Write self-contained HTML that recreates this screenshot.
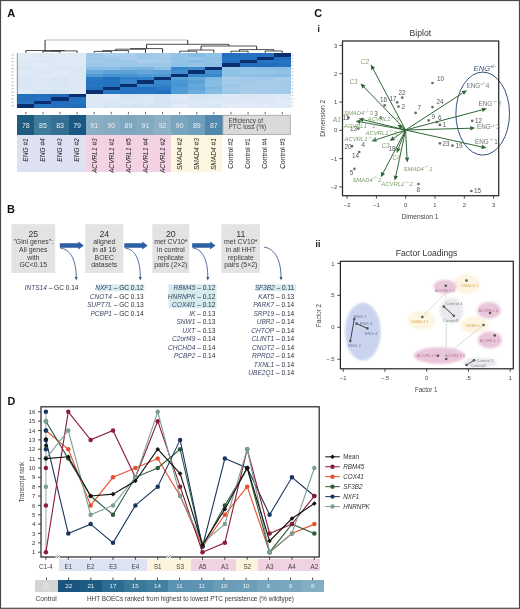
<!DOCTYPE html>
<html><head><meta charset="utf-8"><style>
html,body{margin:0;padding:0;background:#fff;}
svg{display:block;will-change:transform;}
text{font-family:"Liberation Sans",sans-serif;}
</style></head><body>
<svg width="520" height="609" viewBox="0 0 520 609">
<defs><filter id="sb" x="-30%" y="-30%" width="160%" height="160%"><feGaussianBlur stdDeviation="0.9"/></filter></defs>
<rect x="0" y="0" width="520" height="609" fill="#fff"/>
<text x="7.30" y="16.50" font-size="11" fill="#111" text-anchor="start" font-weight="bold" >A</text>
<g shape-rendering="crispEdges"><rect x="17.30" y="53.30" width="17.39" height="3.68" fill="#e1ebf7"/><rect x="34.39" y="53.30" width="17.39" height="3.68" fill="#dee9f6"/><rect x="51.49" y="53.30" width="17.39" height="3.68" fill="#e0eaf6"/><rect x="68.58" y="53.30" width="17.39" height="3.68" fill="#dee9f6"/><rect x="85.67" y="53.30" width="17.39" height="3.68" fill="#a0c9e9"/><rect x="102.77" y="53.30" width="17.39" height="3.68" fill="#a9cdea"/><rect x="119.86" y="53.30" width="17.39" height="3.68" fill="#aaceea"/><rect x="136.96" y="53.30" width="17.39" height="3.68" fill="#9dc8e8"/><rect x="154.05" y="53.30" width="17.39" height="3.68" fill="#a6ccea"/><rect x="171.14" y="53.30" width="17.39" height="3.68" fill="#94c3e7"/><rect x="188.24" y="53.30" width="17.39" height="3.68" fill="#86bce4"/><rect x="205.33" y="53.30" width="17.39" height="3.68" fill="#90c1e6"/><rect x="222.43" y="53.30" width="17.39" height="3.68" fill="#236fbe"/><rect x="239.52" y="53.30" width="17.39" height="3.68" fill="#2573c2"/><rect x="256.61" y="53.30" width="17.39" height="3.68" fill="#2471c0"/><rect x="273.71" y="53.30" width="17.39" height="3.68" fill="#0a2f6f"/><rect x="17.30" y="56.68" width="17.39" height="3.68" fill="#e2ecf7"/><rect x="34.39" y="56.68" width="17.39" height="3.68" fill="#dde9f5"/><rect x="51.49" y="56.68" width="17.39" height="3.68" fill="#dce8f5"/><rect x="68.58" y="56.68" width="17.39" height="3.68" fill="#deeaf6"/><rect x="85.67" y="56.68" width="17.39" height="3.68" fill="#9ec8e9"/><rect x="102.77" y="56.68" width="17.39" height="3.68" fill="#a0c9e9"/><rect x="119.86" y="56.68" width="17.39" height="3.68" fill="#a9cdea"/><rect x="136.96" y="56.68" width="17.39" height="3.68" fill="#9ec8e9"/><rect x="154.05" y="56.68" width="17.39" height="3.68" fill="#a1c9e9"/><rect x="171.14" y="56.68" width="17.39" height="3.68" fill="#93c3e7"/><rect x="188.24" y="56.68" width="17.39" height="3.68" fill="#97c5e8"/><rect x="205.33" y="56.68" width="17.39" height="3.68" fill="#89bee5"/><rect x="222.43" y="56.68" width="17.39" height="3.68" fill="#2573c2"/><rect x="239.52" y="56.68" width="17.39" height="3.68" fill="#2470c0"/><rect x="256.61" y="56.68" width="17.39" height="3.68" fill="#0a2f6f"/><rect x="273.71" y="56.68" width="17.39" height="3.68" fill="#226ebe"/><rect x="17.30" y="60.06" width="17.39" height="3.68" fill="#dde9f5"/><rect x="34.39" y="60.06" width="17.39" height="3.68" fill="#dbe7f5"/><rect x="51.49" y="60.06" width="17.39" height="3.68" fill="#dfeaf6"/><rect x="68.58" y="60.06" width="17.39" height="3.68" fill="#dce8f5"/><rect x="85.67" y="60.06" width="17.39" height="3.68" fill="#a3cbe9"/><rect x="102.77" y="60.06" width="17.39" height="3.68" fill="#9bc7e8"/><rect x="119.86" y="60.06" width="17.39" height="3.68" fill="#9cc7e8"/><rect x="136.96" y="60.06" width="17.39" height="3.68" fill="#a9cdea"/><rect x="154.05" y="60.06" width="17.39" height="3.68" fill="#a8cdea"/><rect x="171.14" y="60.06" width="17.39" height="3.68" fill="#94c3e7"/><rect x="188.24" y="60.06" width="17.39" height="3.68" fill="#87bce4"/><rect x="205.33" y="60.06" width="17.39" height="3.68" fill="#91c2e7"/><rect x="222.43" y="60.06" width="17.39" height="3.68" fill="#2471c1"/><rect x="239.52" y="60.06" width="17.39" height="3.68" fill="#0a2f6f"/><rect x="256.61" y="60.06" width="17.39" height="3.68" fill="#2876c3"/><rect x="273.71" y="60.06" width="17.39" height="3.68" fill="#2573c2"/><rect x="17.30" y="63.44" width="17.39" height="3.68" fill="#e0eaf6"/><rect x="34.39" y="63.44" width="17.39" height="3.68" fill="#e0ebf6"/><rect x="51.49" y="63.44" width="17.39" height="3.68" fill="#dee9f6"/><rect x="68.58" y="63.44" width="17.39" height="3.68" fill="#dee9f6"/><rect x="85.67" y="63.44" width="17.39" height="3.68" fill="#9cc7e8"/><rect x="102.77" y="63.44" width="17.39" height="3.68" fill="#9fc9e9"/><rect x="119.86" y="63.44" width="17.39" height="3.68" fill="#9bc7e8"/><rect x="136.96" y="63.44" width="17.39" height="3.68" fill="#9dc7e8"/><rect x="154.05" y="63.44" width="17.39" height="3.68" fill="#9ac6e8"/><rect x="171.14" y="63.44" width="17.39" height="3.68" fill="#8dc0e6"/><rect x="188.24" y="63.44" width="17.39" height="3.68" fill="#95c4e7"/><rect x="205.33" y="63.44" width="17.39" height="3.68" fill="#89bee5"/><rect x="222.43" y="63.44" width="17.39" height="3.68" fill="#0a2f6f"/><rect x="239.52" y="63.44" width="17.39" height="3.68" fill="#226dbd"/><rect x="256.61" y="63.44" width="17.39" height="3.68" fill="#226ebe"/><rect x="273.71" y="63.44" width="17.39" height="3.68" fill="#2572c1"/><rect x="17.30" y="66.83" width="17.39" height="3.68" fill="#dae7f4"/><rect x="34.39" y="66.83" width="17.39" height="3.68" fill="#dee9f6"/><rect x="51.49" y="66.83" width="17.39" height="3.68" fill="#d9e6f4"/><rect x="68.58" y="66.83" width="17.39" height="3.68" fill="#dbe7f5"/><rect x="85.67" y="66.83" width="17.39" height="3.68" fill="#87bde4"/><rect x="102.77" y="66.83" width="17.39" height="3.68" fill="#8cbfe6"/><rect x="119.86" y="66.83" width="17.39" height="3.68" fill="#7cb6e1"/><rect x="136.96" y="66.83" width="17.39" height="3.68" fill="#79b4e0"/><rect x="154.05" y="66.83" width="17.39" height="3.68" fill="#8bbfe6"/><rect x="171.14" y="66.83" width="17.39" height="3.68" fill="#3686cb"/><rect x="188.24" y="66.83" width="17.39" height="3.68" fill="#3c8bce"/><rect x="205.33" y="66.83" width="17.39" height="3.68" fill="#0a2f6f"/><rect x="222.43" y="66.83" width="17.39" height="3.68" fill="#95c4e7"/><rect x="239.52" y="66.83" width="17.39" height="3.68" fill="#93c3e7"/><rect x="256.61" y="66.83" width="17.39" height="3.68" fill="#8bbfe5"/><rect x="273.71" y="66.83" width="17.39" height="3.68" fill="#89bee5"/><rect x="17.30" y="70.21" width="17.39" height="3.68" fill="#e0eaf6"/><rect x="34.39" y="70.21" width="17.39" height="3.68" fill="#dbe7f5"/><rect x="51.49" y="70.21" width="17.39" height="3.68" fill="#e0eaf6"/><rect x="68.58" y="70.21" width="17.39" height="3.68" fill="#dae7f4"/><rect x="85.67" y="70.21" width="17.39" height="3.68" fill="#68aadc"/><rect x="102.77" y="70.21" width="17.39" height="3.68" fill="#5ca3d9"/><rect x="119.86" y="70.21" width="17.39" height="3.68" fill="#5aa2d8"/><rect x="136.96" y="70.21" width="17.39" height="3.68" fill="#64a8db"/><rect x="154.05" y="70.21" width="17.39" height="3.68" fill="#5aa2d8"/><rect x="171.14" y="70.21" width="17.39" height="3.68" fill="#3e8dce"/><rect x="188.24" y="70.21" width="17.39" height="3.68" fill="#0a2f6f"/><rect x="205.33" y="70.21" width="17.39" height="3.68" fill="#4290d0"/><rect x="222.43" y="70.21" width="17.39" height="3.68" fill="#8ec1e6"/><rect x="239.52" y="70.21" width="17.39" height="3.68" fill="#97c5e8"/><rect x="256.61" y="70.21" width="17.39" height="3.68" fill="#95c4e7"/><rect x="273.71" y="70.21" width="17.39" height="3.68" fill="#91c2e7"/><rect x="17.30" y="73.59" width="17.39" height="3.68" fill="#dbe7f5"/><rect x="34.39" y="73.59" width="17.39" height="3.68" fill="#dfeaf6"/><rect x="51.49" y="73.59" width="17.39" height="3.68" fill="#e0eaf6"/><rect x="68.58" y="73.59" width="17.39" height="3.68" fill="#d9e6f4"/><rect x="85.67" y="73.59" width="17.39" height="3.68" fill="#519bd5"/><rect x="102.77" y="73.59" width="17.39" height="3.68" fill="#4492d1"/><rect x="119.86" y="73.59" width="17.39" height="3.68" fill="#4693d1"/><rect x="136.96" y="73.59" width="17.39" height="3.68" fill="#509ad4"/><rect x="154.05" y="73.59" width="17.39" height="3.68" fill="#4e99d4"/><rect x="171.14" y="73.59" width="17.39" height="3.68" fill="#0a2f6f"/><rect x="188.24" y="73.59" width="17.39" height="3.68" fill="#3a8acd"/><rect x="205.33" y="73.59" width="17.39" height="3.68" fill="#3888cc"/><rect x="222.43" y="73.59" width="17.39" height="3.68" fill="#8ec1e6"/><rect x="239.52" y="73.59" width="17.39" height="3.68" fill="#8fc1e6"/><rect x="256.61" y="73.59" width="17.39" height="3.68" fill="#8ec0e6"/><rect x="273.71" y="73.59" width="17.39" height="3.68" fill="#87bde4"/><rect x="17.30" y="76.97" width="17.39" height="3.68" fill="#dae7f4"/><rect x="34.39" y="76.97" width="17.39" height="3.68" fill="#dbe7f5"/><rect x="51.49" y="76.97" width="17.39" height="3.68" fill="#d8e6f4"/><rect x="68.58" y="76.97" width="17.39" height="3.68" fill="#dde8f5"/><rect x="85.67" y="76.97" width="17.39" height="3.68" fill="#2a78c4"/><rect x="102.77" y="76.97" width="17.39" height="3.68" fill="#236fbf"/><rect x="119.86" y="76.97" width="17.39" height="3.68" fill="#3181c8"/><rect x="136.96" y="76.97" width="17.39" height="3.68" fill="#3180c8"/><rect x="154.05" y="76.97" width="17.39" height="3.68" fill="#0a2f6f"/><rect x="171.14" y="76.97" width="17.39" height="3.68" fill="#579fd7"/><rect x="188.24" y="76.97" width="17.39" height="3.68" fill="#66a9db"/><rect x="205.33" y="76.97" width="17.39" height="3.68" fill="#81b9e3"/><rect x="222.43" y="76.97" width="17.39" height="3.68" fill="#aaceea"/><rect x="239.52" y="76.97" width="17.39" height="3.68" fill="#a0c9e9"/><rect x="256.61" y="76.97" width="17.39" height="3.68" fill="#a0c9e9"/><rect x="273.71" y="76.97" width="17.39" height="3.68" fill="#a9cdea"/><rect x="17.30" y="80.35" width="17.39" height="3.68" fill="#d9e6f4"/><rect x="34.39" y="80.35" width="17.39" height="3.68" fill="#dbe7f5"/><rect x="51.49" y="80.35" width="17.39" height="3.68" fill="#d9e6f4"/><rect x="68.58" y="80.35" width="17.39" height="3.68" fill="#dce8f5"/><rect x="85.67" y="80.35" width="17.39" height="3.68" fill="#2573c2"/><rect x="102.77" y="80.35" width="17.39" height="3.68" fill="#2572c1"/><rect x="119.86" y="80.35" width="17.39" height="3.68" fill="#3887cc"/><rect x="136.96" y="80.35" width="17.39" height="3.68" fill="#0a2f6f"/><rect x="154.05" y="80.35" width="17.39" height="3.68" fill="#3787cc"/><rect x="171.14" y="80.35" width="17.39" height="3.68" fill="#4a96d2"/><rect x="188.24" y="80.35" width="17.39" height="3.68" fill="#5ba2d8"/><rect x="205.33" y="80.35" width="17.39" height="3.68" fill="#88bde5"/><rect x="222.43" y="80.35" width="17.39" height="3.68" fill="#a3cae9"/><rect x="239.52" y="80.35" width="17.39" height="3.68" fill="#a1c9e9"/><rect x="256.61" y="80.35" width="17.39" height="3.68" fill="#a5ccea"/><rect x="273.71" y="80.35" width="17.39" height="3.68" fill="#a5cbea"/><rect x="17.30" y="83.73" width="17.39" height="3.68" fill="#dce8f5"/><rect x="34.39" y="83.73" width="17.39" height="3.68" fill="#dbe8f5"/><rect x="51.49" y="83.73" width="17.39" height="3.68" fill="#dae6f4"/><rect x="68.58" y="83.73" width="17.39" height="3.68" fill="#dce8f5"/><rect x="85.67" y="83.73" width="17.39" height="3.68" fill="#2977c4"/><rect x="102.77" y="83.73" width="17.39" height="3.68" fill="#2472c1"/><rect x="119.86" y="83.73" width="17.39" height="3.68" fill="#0a2f6f"/><rect x="136.96" y="83.73" width="17.39" height="3.68" fill="#3887cc"/><rect x="154.05" y="83.73" width="17.39" height="3.68" fill="#3180c8"/><rect x="171.14" y="83.73" width="17.39" height="3.68" fill="#4995d2"/><rect x="188.24" y="83.73" width="17.39" height="3.68" fill="#68aadc"/><rect x="205.33" y="83.73" width="17.39" height="3.68" fill="#88bde5"/><rect x="222.43" y="83.73" width="17.39" height="3.68" fill="#9dc8e8"/><rect x="239.52" y="83.73" width="17.39" height="3.68" fill="#a7ccea"/><rect x="256.61" y="83.73" width="17.39" height="3.68" fill="#a7cdea"/><rect x="273.71" y="83.73" width="17.39" height="3.68" fill="#a3cbe9"/><rect x="17.30" y="87.11" width="17.39" height="3.68" fill="#d9e6f4"/><rect x="34.39" y="87.11" width="17.39" height="3.68" fill="#dee9f6"/><rect x="51.49" y="87.11" width="17.39" height="3.68" fill="#dce8f5"/><rect x="68.58" y="87.11" width="17.39" height="3.68" fill="#dce8f5"/><rect x="85.67" y="87.11" width="17.39" height="3.68" fill="#2471c0"/><rect x="102.77" y="87.11" width="17.39" height="3.68" fill="#0a2f6f"/><rect x="119.86" y="87.11" width="17.39" height="3.68" fill="#2876c4"/><rect x="136.96" y="87.11" width="17.39" height="3.68" fill="#2471c0"/><rect x="154.05" y="87.11" width="17.39" height="3.68" fill="#2b7ac5"/><rect x="171.14" y="87.11" width="17.39" height="3.68" fill="#509bd5"/><rect x="188.24" y="87.11" width="17.39" height="3.68" fill="#61a6da"/><rect x="205.33" y="87.11" width="17.39" height="3.68" fill="#7bb5e1"/><rect x="222.43" y="87.11" width="17.39" height="3.68" fill="#a3cbe9"/><rect x="239.52" y="87.11" width="17.39" height="3.68" fill="#a7ccea"/><rect x="256.61" y="87.11" width="17.39" height="3.68" fill="#a8cdea"/><rect x="273.71" y="87.11" width="17.39" height="3.68" fill="#a2cae9"/><rect x="17.30" y="90.49" width="17.39" height="3.68" fill="#dde9f5"/><rect x="34.39" y="90.49" width="17.39" height="3.68" fill="#d7e5f4"/><rect x="51.49" y="90.49" width="17.39" height="3.68" fill="#d7e5f3"/><rect x="68.58" y="90.49" width="17.39" height="3.68" fill="#dde9f5"/><rect x="85.67" y="90.49" width="17.39" height="3.68" fill="#0a2f6f"/><rect x="102.77" y="90.49" width="17.39" height="3.68" fill="#2a78c5"/><rect x="119.86" y="90.49" width="17.39" height="3.68" fill="#2471c0"/><rect x="136.96" y="90.49" width="17.39" height="3.68" fill="#2573c2"/><rect x="154.05" y="90.49" width="17.39" height="3.68" fill="#2471c0"/><rect x="171.14" y="90.49" width="17.39" height="3.68" fill="#509bd5"/><rect x="188.24" y="90.49" width="17.39" height="3.68" fill="#6cacdd"/><rect x="205.33" y="90.49" width="17.39" height="3.68" fill="#87bce4"/><rect x="222.43" y="90.49" width="17.39" height="3.68" fill="#9ec8e8"/><rect x="239.52" y="90.49" width="17.39" height="3.68" fill="#a6ccea"/><rect x="256.61" y="90.49" width="17.39" height="3.68" fill="#a5cbea"/><rect x="273.71" y="90.49" width="17.39" height="3.68" fill="#a4cbe9"/><rect x="17.30" y="93.88" width="17.39" height="3.68" fill="#2370bf"/><rect x="34.39" y="93.88" width="17.39" height="3.68" fill="#2370bf"/><rect x="51.49" y="93.88" width="17.39" height="3.68" fill="#206aba"/><rect x="68.58" y="93.88" width="17.39" height="3.68" fill="#0a2f6f"/><rect x="85.67" y="93.88" width="17.39" height="3.68" fill="#dde9f5"/><rect x="102.77" y="93.88" width="17.39" height="3.68" fill="#dfeaf6"/><rect x="119.86" y="93.88" width="17.39" height="3.68" fill="#d5e4f3"/><rect x="136.96" y="93.88" width="17.39" height="3.68" fill="#d6e4f3"/><rect x="154.05" y="93.88" width="17.39" height="3.68" fill="#d4e4f3"/><rect x="171.14" y="93.88" width="17.39" height="3.68" fill="#dce8f5"/><rect x="188.24" y="93.88" width="17.39" height="3.68" fill="#d7e5f4"/><rect x="205.33" y="93.88" width="17.39" height="3.68" fill="#d8e5f4"/><rect x="222.43" y="93.88" width="17.39" height="3.68" fill="#e1ebf7"/><rect x="239.52" y="93.88" width="17.39" height="3.68" fill="#dde8f5"/><rect x="256.61" y="93.88" width="17.39" height="3.68" fill="#dce8f5"/><rect x="273.71" y="93.88" width="17.39" height="3.68" fill="#dde9f5"/><rect x="17.30" y="97.26" width="17.39" height="3.68" fill="#236fbe"/><rect x="34.39" y="97.26" width="17.39" height="3.68" fill="#2472c1"/><rect x="51.49" y="97.26" width="17.39" height="3.68" fill="#0a2f6f"/><rect x="68.58" y="97.26" width="17.39" height="3.68" fill="#2471c0"/><rect x="85.67" y="97.26" width="17.39" height="3.68" fill="#dde8f5"/><rect x="102.77" y="97.26" width="17.39" height="3.68" fill="#dee9f6"/><rect x="119.86" y="97.26" width="17.39" height="3.68" fill="#dae6f4"/><rect x="136.96" y="97.26" width="17.39" height="3.68" fill="#dce8f5"/><rect x="154.05" y="97.26" width="17.39" height="3.68" fill="#d7e5f4"/><rect x="171.14" y="97.26" width="17.39" height="3.68" fill="#e0eaf6"/><rect x="188.24" y="97.26" width="17.39" height="3.68" fill="#d8e5f4"/><rect x="205.33" y="97.26" width="17.39" height="3.68" fill="#dae7f4"/><rect x="222.43" y="97.26" width="17.39" height="3.68" fill="#dbe7f5"/><rect x="239.52" y="97.26" width="17.39" height="3.68" fill="#dbe8f5"/><rect x="256.61" y="97.26" width="17.39" height="3.68" fill="#dbe7f5"/><rect x="273.71" y="97.26" width="17.39" height="3.68" fill="#dee9f6"/><rect x="17.30" y="100.64" width="17.39" height="3.68" fill="#2775c3"/><rect x="34.39" y="100.64" width="17.39" height="3.68" fill="#0a2f6f"/><rect x="51.49" y="100.64" width="17.39" height="3.68" fill="#216cbc"/><rect x="68.58" y="100.64" width="17.39" height="3.68" fill="#2573c2"/><rect x="85.67" y="100.64" width="17.39" height="3.68" fill="#dce8f5"/><rect x="102.77" y="100.64" width="17.39" height="3.68" fill="#d9e6f4"/><rect x="119.86" y="100.64" width="17.39" height="3.68" fill="#dae7f4"/><rect x="136.96" y="100.64" width="17.39" height="3.68" fill="#dbe7f5"/><rect x="154.05" y="100.64" width="17.39" height="3.68" fill="#d5e4f3"/><rect x="171.14" y="100.64" width="17.39" height="3.68" fill="#dbe7f5"/><rect x="188.24" y="100.64" width="17.39" height="3.68" fill="#dde9f5"/><rect x="205.33" y="100.64" width="17.39" height="3.68" fill="#dee9f6"/><rect x="222.43" y="100.64" width="17.39" height="3.68" fill="#dce8f5"/><rect x="239.52" y="100.64" width="17.39" height="3.68" fill="#dfeaf6"/><rect x="256.61" y="100.64" width="17.39" height="3.68" fill="#dce8f5"/><rect x="273.71" y="100.64" width="17.39" height="3.68" fill="#e0ebf6"/><rect x="17.30" y="104.02" width="17.39" height="3.68" fill="#0a2f6f"/><rect x="34.39" y="104.02" width="17.39" height="3.68" fill="#2573c2"/><rect x="51.49" y="104.02" width="17.39" height="3.68" fill="#236fbe"/><rect x="68.58" y="104.02" width="17.39" height="3.68" fill="#216bbb"/><rect x="85.67" y="104.02" width="17.39" height="3.68" fill="#dde9f5"/><rect x="102.77" y="104.02" width="17.39" height="3.68" fill="#d7e5f4"/><rect x="119.86" y="104.02" width="17.39" height="3.68" fill="#d5e4f3"/><rect x="136.96" y="104.02" width="17.39" height="3.68" fill="#d7e5f4"/><rect x="154.05" y="104.02" width="17.39" height="3.68" fill="#d7e5f3"/><rect x="171.14" y="104.02" width="17.39" height="3.68" fill="#e0ebf6"/><rect x="188.24" y="104.02" width="17.39" height="3.68" fill="#dbe7f5"/><rect x="205.33" y="104.02" width="17.39" height="3.68" fill="#d9e6f4"/><rect x="222.43" y="104.02" width="17.39" height="3.68" fill="#e2ecf7"/><rect x="239.52" y="104.02" width="17.39" height="3.68" fill="#e1ebf7"/><rect x="256.61" y="104.02" width="17.39" height="3.68" fill="#e1ebf7"/><rect x="273.71" y="104.02" width="17.39" height="3.68" fill="#deeaf6"/></g>
<line x1="17.30" y1="53.3" x2="17.30" y2="107.4" stroke="#555" stroke-width="0.6"/>
<line x1="11.5" y1="54.99" x2="13.8" y2="54.99" stroke="#aaa" stroke-width="0.8"/>
<line x1="291.5" y1="54.99" x2="293.5" y2="54.99" stroke="#bbb" stroke-width="0.8"/>
<line x1="11.5" y1="58.37" x2="13.8" y2="58.37" stroke="#aaa" stroke-width="0.8"/>
<line x1="291.5" y1="58.37" x2="293.5" y2="58.37" stroke="#bbb" stroke-width="0.8"/>
<line x1="11.5" y1="61.75" x2="13.8" y2="61.75" stroke="#aaa" stroke-width="0.8"/>
<line x1="291.5" y1="61.75" x2="293.5" y2="61.75" stroke="#bbb" stroke-width="0.8"/>
<line x1="11.5" y1="65.13" x2="13.8" y2="65.13" stroke="#aaa" stroke-width="0.8"/>
<line x1="291.5" y1="65.13" x2="293.5" y2="65.13" stroke="#bbb" stroke-width="0.8"/>
<line x1="11.5" y1="68.52" x2="13.8" y2="68.52" stroke="#aaa" stroke-width="0.8"/>
<line x1="291.5" y1="68.52" x2="293.5" y2="68.52" stroke="#bbb" stroke-width="0.8"/>
<line x1="11.5" y1="71.90" x2="13.8" y2="71.90" stroke="#aaa" stroke-width="0.8"/>
<line x1="291.5" y1="71.90" x2="293.5" y2="71.90" stroke="#bbb" stroke-width="0.8"/>
<line x1="11.5" y1="75.28" x2="13.8" y2="75.28" stroke="#aaa" stroke-width="0.8"/>
<line x1="291.5" y1="75.28" x2="293.5" y2="75.28" stroke="#bbb" stroke-width="0.8"/>
<line x1="11.5" y1="78.66" x2="13.8" y2="78.66" stroke="#aaa" stroke-width="0.8"/>
<line x1="291.5" y1="78.66" x2="293.5" y2="78.66" stroke="#bbb" stroke-width="0.8"/>
<line x1="11.5" y1="82.04" x2="13.8" y2="82.04" stroke="#aaa" stroke-width="0.8"/>
<line x1="291.5" y1="82.04" x2="293.5" y2="82.04" stroke="#bbb" stroke-width="0.8"/>
<line x1="11.5" y1="85.42" x2="13.8" y2="85.42" stroke="#aaa" stroke-width="0.8"/>
<line x1="291.5" y1="85.42" x2="293.5" y2="85.42" stroke="#bbb" stroke-width="0.8"/>
<line x1="11.5" y1="88.80" x2="13.8" y2="88.80" stroke="#aaa" stroke-width="0.8"/>
<line x1="291.5" y1="88.80" x2="293.5" y2="88.80" stroke="#bbb" stroke-width="0.8"/>
<line x1="11.5" y1="92.18" x2="13.8" y2="92.18" stroke="#aaa" stroke-width="0.8"/>
<line x1="291.5" y1="92.18" x2="293.5" y2="92.18" stroke="#bbb" stroke-width="0.8"/>
<line x1="11.5" y1="95.57" x2="13.8" y2="95.57" stroke="#aaa" stroke-width="0.8"/>
<line x1="291.5" y1="95.57" x2="293.5" y2="95.57" stroke="#bbb" stroke-width="0.8"/>
<line x1="11.5" y1="98.95" x2="13.8" y2="98.95" stroke="#aaa" stroke-width="0.8"/>
<line x1="291.5" y1="98.95" x2="293.5" y2="98.95" stroke="#bbb" stroke-width="0.8"/>
<line x1="11.5" y1="102.33" x2="13.8" y2="102.33" stroke="#aaa" stroke-width="0.8"/>
<line x1="291.5" y1="102.33" x2="293.5" y2="102.33" stroke="#bbb" stroke-width="0.8"/>
<line x1="11.5" y1="105.71" x2="13.8" y2="105.71" stroke="#aaa" stroke-width="0.8"/>
<line x1="291.5" y1="105.71" x2="293.5" y2="105.71" stroke="#bbb" stroke-width="0.8"/>
<line x1="42.94" y1="51.30" x2="60.03" y2="51.30" stroke="#333" stroke-width="0.85"/><line x1="42.94" y1="51.30" x2="42.94" y2="52.80" stroke="#222" stroke-width="0.95"/><line x1="60.03" y1="51.30" x2="60.03" y2="52.80" stroke="#222" stroke-width="0.95"/><line x1="51.49" y1="50.90" x2="77.13" y2="50.90" stroke="#333" stroke-width="0.85"/><line x1="51.49" y1="50.90" x2="51.49" y2="51.30" stroke="#222" stroke-width="0.95"/><line x1="77.13" y1="50.90" x2="77.13" y2="52.80" stroke="#222" stroke-width="0.95"/><line x1="25.85" y1="50.50" x2="64.31" y2="50.50" stroke="#333" stroke-width="0.85"/><line x1="25.85" y1="50.50" x2="25.85" y2="52.80" stroke="#222" stroke-width="0.95"/><line x1="64.31" y1="50.50" x2="64.31" y2="50.90" stroke="#222" stroke-width="0.95"/><line x1="94.22" y1="51.40" x2="111.32" y2="51.40" stroke="#333" stroke-width="0.85"/><line x1="94.22" y1="51.40" x2="94.22" y2="52.80" stroke="#222" stroke-width="0.95"/><line x1="111.32" y1="51.40" x2="111.32" y2="52.80" stroke="#222" stroke-width="0.95"/><line x1="102.77" y1="50.60" x2="128.41" y2="50.60" stroke="#333" stroke-width="0.85"/><line x1="102.77" y1="50.60" x2="102.77" y2="51.40" stroke="#222" stroke-width="0.95"/><line x1="128.41" y1="50.60" x2="128.41" y2="52.80" stroke="#222" stroke-width="0.95"/><line x1="115.59" y1="49.20" x2="145.50" y2="49.20" stroke="#333" stroke-width="0.85"/><line x1="115.59" y1="49.20" x2="115.59" y2="50.60" stroke="#222" stroke-width="0.95"/><line x1="145.50" y1="49.20" x2="145.50" y2="52.80" stroke="#222" stroke-width="0.95"/><line x1="130.55" y1="48.60" x2="162.60" y2="48.60" stroke="#333" stroke-width="0.85"/><line x1="130.55" y1="48.60" x2="130.55" y2="49.20" stroke="#222" stroke-width="0.95"/><line x1="162.60" y1="48.60" x2="162.60" y2="52.80" stroke="#222" stroke-width="0.95"/><line x1="179.69" y1="51.20" x2="196.78" y2="51.20" stroke="#333" stroke-width="0.85"/><line x1="179.69" y1="51.20" x2="179.69" y2="52.80" stroke="#222" stroke-width="0.95"/><line x1="196.78" y1="51.20" x2="196.78" y2="52.80" stroke="#222" stroke-width="0.95"/><line x1="188.24" y1="50.00" x2="213.88" y2="50.00" stroke="#333" stroke-width="0.85"/><line x1="188.24" y1="50.00" x2="188.24" y2="51.20" stroke="#222" stroke-width="0.95"/><line x1="213.88" y1="50.00" x2="213.88" y2="52.80" stroke="#222" stroke-width="0.95"/><line x1="230.97" y1="51.20" x2="248.07" y2="51.20" stroke="#333" stroke-width="0.85"/><line x1="230.97" y1="51.20" x2="230.97" y2="52.80" stroke="#222" stroke-width="0.95"/><line x1="248.07" y1="51.20" x2="248.07" y2="52.80" stroke="#222" stroke-width="0.95"/><line x1="265.16" y1="51.00" x2="282.25" y2="51.00" stroke="#333" stroke-width="0.85"/><line x1="265.16" y1="51.00" x2="265.16" y2="52.80" stroke="#222" stroke-width="0.95"/><line x1="282.25" y1="51.00" x2="282.25" y2="52.80" stroke="#222" stroke-width="0.95"/><line x1="239.52" y1="49.60" x2="273.71" y2="49.60" stroke="#333" stroke-width="0.85"/><line x1="239.52" y1="49.60" x2="239.52" y2="51.20" stroke="#222" stroke-width="0.95"/><line x1="273.71" y1="49.60" x2="273.71" y2="51.00" stroke="#222" stroke-width="0.95"/><line x1="201.06" y1="46.00" x2="256.61" y2="46.00" stroke="#333" stroke-width="0.85"/><line x1="201.06" y1="46.00" x2="201.06" y2="50.00" stroke="#222" stroke-width="0.95"/><line x1="256.61" y1="46.00" x2="256.61" y2="49.60" stroke="#222" stroke-width="0.95"/><line x1="146.57" y1="44.30" x2="228.84" y2="44.30" stroke="#333" stroke-width="0.85"/><line x1="146.57" y1="44.30" x2="146.57" y2="48.60" stroke="#222" stroke-width="0.95"/><line x1="228.84" y1="44.30" x2="228.84" y2="46.00" stroke="#222" stroke-width="0.95"/><line x1="45.08" y1="40.00" x2="187.70" y2="40.00" stroke="#bbb" stroke-width="1.0"/><line x1="45.08" y1="40.00" x2="45.08" y2="50.50" stroke="#222" stroke-width="0.95"/><line x1="187.70" y1="40.00" x2="187.70" y2="44.30" stroke="#222" stroke-width="0.95"/>
<line x1="25.85" y1="111.80" x2="25.85" y2="114.30" stroke="#444" stroke-width="0.8"/>
<line x1="42.94" y1="111.80" x2="42.94" y2="114.30" stroke="#444" stroke-width="0.8"/>
<line x1="60.03" y1="111.80" x2="60.03" y2="114.30" stroke="#444" stroke-width="0.8"/>
<line x1="77.13" y1="111.80" x2="77.13" y2="114.30" stroke="#444" stroke-width="0.8"/>
<line x1="94.22" y1="111.80" x2="94.22" y2="114.30" stroke="#444" stroke-width="0.8"/>
<line x1="111.32" y1="111.80" x2="111.32" y2="114.30" stroke="#444" stroke-width="0.8"/>
<line x1="128.41" y1="111.80" x2="128.41" y2="114.30" stroke="#444" stroke-width="0.8"/>
<line x1="145.50" y1="111.80" x2="145.50" y2="114.30" stroke="#444" stroke-width="0.8"/>
<line x1="162.60" y1="111.80" x2="162.60" y2="114.30" stroke="#444" stroke-width="0.8"/>
<line x1="179.69" y1="111.80" x2="179.69" y2="114.30" stroke="#444" stroke-width="0.8"/>
<line x1="196.78" y1="111.80" x2="196.78" y2="114.30" stroke="#444" stroke-width="0.8"/>
<line x1="213.88" y1="111.80" x2="213.88" y2="114.30" stroke="#444" stroke-width="0.8"/>
<line x1="230.97" y1="111.80" x2="230.97" y2="114.30" stroke="#444" stroke-width="0.8"/>
<line x1="248.07" y1="111.80" x2="248.07" y2="114.30" stroke="#444" stroke-width="0.8"/>
<line x1="265.16" y1="111.80" x2="265.16" y2="114.30" stroke="#444" stroke-width="0.8"/>
<line x1="282.25" y1="111.80" x2="282.25" y2="114.30" stroke="#444" stroke-width="0.8"/>
<rect x="17.30" y="114.9" width="17.39" height="19.90" fill="#1e5b80" shape-rendering="crispEdges"/>
<text x="25.85" y="127.60" font-size="7" fill="#e8eef2" text-anchor="middle" >78</text>
<rect x="34.39" y="114.9" width="17.39" height="19.90" fill="#3f7c9c" shape-rendering="crispEdges"/>
<text x="42.94" y="127.60" font-size="7" fill="#e8eef2" text-anchor="middle" >85</text>
<rect x="51.49" y="114.9" width="17.39" height="19.90" fill="#356f93" shape-rendering="crispEdges"/>
<text x="60.03" y="127.60" font-size="7" fill="#e8eef2" text-anchor="middle" >83</text>
<rect x="68.58" y="114.9" width="17.39" height="19.90" fill="#1a5884" shape-rendering="crispEdges"/>
<text x="77.13" y="127.60" font-size="7" fill="#e8eef2" text-anchor="middle" >79</text>
<rect x="85.67" y="114.9" width="17.39" height="19.90" fill="#8aaec4" shape-rendering="crispEdges"/>
<text x="94.22" y="127.60" font-size="7" fill="#e8eef2" text-anchor="middle" >91</text>
<rect x="102.77" y="114.9" width="17.39" height="19.90" fill="#86abc2" shape-rendering="crispEdges"/>
<text x="111.32" y="127.60" font-size="7" fill="#e8eef2" text-anchor="middle" >90</text>
<rect x="119.86" y="114.9" width="17.39" height="19.90" fill="#7ea6bf" shape-rendering="crispEdges"/>
<text x="128.41" y="127.60" font-size="7" fill="#e8eef2" text-anchor="middle" >89</text>
<rect x="136.96" y="114.9" width="17.39" height="19.90" fill="#84aac2" shape-rendering="crispEdges"/>
<text x="145.50" y="127.60" font-size="7" fill="#e8eef2" text-anchor="middle" >91</text>
<rect x="154.05" y="114.9" width="17.39" height="19.90" fill="#8db0c6" shape-rendering="crispEdges"/>
<text x="162.60" y="127.60" font-size="7" fill="#e8eef2" text-anchor="middle" >92</text>
<rect x="171.14" y="114.9" width="17.39" height="19.90" fill="#7aa5bf" shape-rendering="crispEdges"/>
<text x="179.69" y="127.60" font-size="7" fill="#e8eef2" text-anchor="middle" >90</text>
<rect x="188.24" y="114.9" width="17.39" height="19.90" fill="#6f9fbb" shape-rendering="crispEdges"/>
<text x="196.78" y="127.60" font-size="7" fill="#e8eef2" text-anchor="middle" >89</text>
<rect x="205.33" y="114.9" width="17.39" height="19.90" fill="#5088ad" shape-rendering="crispEdges"/>
<text x="213.88" y="127.60" font-size="7" fill="#e8eef2" text-anchor="middle" >87</text>
<rect x="222.93" y="115.30000000000001" width="67.38" height="19.10" fill="#dadada" stroke="#a8a8a8" stroke-width="0.9"/>
<text x="228.60" y="123.20" font-size="6.4" fill="#444" text-anchor="start" >Efficiency of</text>
<text x="228.60" y="129.40" font-size="6.4" fill="#444" text-anchor="start" >PTC loss (%)</text>
<rect x="17.30" y="135.4" width="17.39" height="36.90" fill="#dee1f1" shape-rendering="crispEdges"/>
<rect x="34.39" y="135.4" width="17.39" height="36.90" fill="#dee1f1" shape-rendering="crispEdges"/>
<rect x="51.49" y="135.4" width="17.39" height="36.90" fill="#dee1f1" shape-rendering="crispEdges"/>
<rect x="68.58" y="135.4" width="17.39" height="36.90" fill="#dee1f1" shape-rendering="crispEdges"/>
<rect x="85.67" y="135.4" width="17.39" height="36.90" fill="#f3d3e3" shape-rendering="crispEdges"/>
<rect x="102.77" y="135.4" width="17.39" height="36.90" fill="#f3d3e3" shape-rendering="crispEdges"/>
<rect x="119.86" y="135.4" width="17.39" height="36.90" fill="#f3d3e3" shape-rendering="crispEdges"/>
<rect x="136.96" y="135.4" width="17.39" height="36.90" fill="#f3d3e3" shape-rendering="crispEdges"/>
<rect x="154.05" y="135.4" width="17.39" height="36.90" fill="#f3d3e3" shape-rendering="crispEdges"/>
<rect x="171.14" y="135.4" width="17.39" height="36.90" fill="#fdf6e1" shape-rendering="crispEdges"/>
<rect x="188.24" y="135.4" width="17.39" height="36.90" fill="#fdf6e1" shape-rendering="crispEdges"/>
<rect x="205.33" y="135.4" width="17.39" height="36.90" fill="#fdf6e1" shape-rendering="crispEdges"/>
<rect x="222.43" y="135.4" width="17.39" height="36.90" fill="#ffffff" shape-rendering="crispEdges"/>
<rect x="239.52" y="135.4" width="17.39" height="36.90" fill="#ffffff" shape-rendering="crispEdges"/>
<rect x="256.61" y="135.4" width="17.39" height="36.90" fill="#ffffff" shape-rendering="crispEdges"/>
<rect x="273.71" y="135.4" width="17.39" height="36.90" fill="#ffffff" shape-rendering="crispEdges"/>
<text transform="translate(28.15,138.2) rotate(-90)" font-size="6.6" fill="#222" text-anchor="end" font-style="italic">ENG #1</text>
<text transform="translate(45.24,138.2) rotate(-90)" font-size="6.6" fill="#222" text-anchor="end" font-style="italic">ENG #4</text>
<text transform="translate(62.33,138.2) rotate(-90)" font-size="6.6" fill="#222" text-anchor="end" font-style="italic">ENG #3</text>
<text transform="translate(79.43,138.2) rotate(-90)" font-size="6.6" fill="#222" text-anchor="end" font-style="italic">ENG #2</text>
<text transform="translate(96.52,138.2) rotate(-90)" font-size="6.6" fill="#222" text-anchor="end" font-style="italic">ACVRL1 #3</text>
<text transform="translate(113.62,138.2) rotate(-90)" font-size="6.6" fill="#222" text-anchor="end" font-style="italic">ACVRL1 #1</text>
<text transform="translate(130.71,138.2) rotate(-90)" font-size="6.6" fill="#222" text-anchor="end" font-style="italic">ACVRL1 #5</text>
<text transform="translate(147.80,138.2) rotate(-90)" font-size="6.6" fill="#222" text-anchor="end" font-style="italic">ACVRL1 #4</text>
<text transform="translate(164.90,138.2) rotate(-90)" font-size="6.6" fill="#222" text-anchor="end" font-style="italic">ACVRL1 #2</text>
<text transform="translate(181.99,138.2) rotate(-90)" font-size="6.6" fill="#222" text-anchor="end" font-style="italic">SMAD4 #2</text>
<text transform="translate(199.08,138.2) rotate(-90)" font-size="6.6" fill="#222" text-anchor="end" font-style="italic">SMAD4 #3</text>
<text transform="translate(216.18,138.2) rotate(-90)" font-size="6.6" fill="#222" text-anchor="end" font-style="italic">SMAD4 #1</text>
<text transform="translate(233.27,138.2) rotate(-90)" font-size="6.6" fill="#222" text-anchor="end">Control #2</text>
<text transform="translate(250.37,138.2) rotate(-90)" font-size="6.6" fill="#222" text-anchor="end">Control #1</text>
<text transform="translate(267.46,138.2) rotate(-90)" font-size="6.6" fill="#222" text-anchor="end">Control #4</text>
<text transform="translate(284.55,138.2) rotate(-90)" font-size="6.6" fill="#222" text-anchor="end">Control #3</text>
<text x="6.90" y="212.70" font-size="11" fill="#111" text-anchor="start" font-weight="bold" >B</text>
<rect x="11.4" y="224.2" width="43.80" height="48.8" fill="#e3e3e3"/>
<text x="33.30" y="236.90" font-size="8.8" fill="#333" text-anchor="middle" >25</text>
<text x="33.30" y="244.40" font-size="6.9" fill="#3a3a3a" text-anchor="middle" >"Gini genes":</text>
<text x="33.30" y="252.00" font-size="6.9" fill="#3a3a3a" text-anchor="middle" >All genes</text>
<text x="33.30" y="259.60" font-size="6.9" fill="#3a3a3a" text-anchor="middle" >with</text>
<text x="33.30" y="267.20" font-size="6.9" fill="#3a3a3a" text-anchor="middle" >GC&lt;0.15</text>
<rect x="85.2" y="224.2" width="38.20" height="48.8" fill="#e3e3e3"/>
<text x="104.30" y="236.90" font-size="8.8" fill="#333" text-anchor="middle" >24</text>
<text x="104.30" y="244.40" font-size="6.9" fill="#3a3a3a" text-anchor="middle" >aligned</text>
<text x="104.30" y="252.00" font-size="6.9" fill="#3a3a3a" text-anchor="middle" >in all 16</text>
<text x="104.30" y="259.60" font-size="6.9" fill="#3a3a3a" text-anchor="middle" >BOEC</text>
<text x="104.30" y="267.20" font-size="6.9" fill="#3a3a3a" text-anchor="middle" >datasets</text>
<rect x="152.4" y="224.2" width="36.90" height="48.8" fill="#e3e3e3"/>
<text x="170.85" y="236.90" font-size="8.8" fill="#333" text-anchor="middle" >20</text>
<text x="170.85" y="244.40" font-size="6.9" fill="#3a3a3a" text-anchor="middle" >met CV10*</text>
<text x="170.85" y="252.00" font-size="6.9" fill="#3a3a3a" text-anchor="middle" >in control</text>
<text x="170.85" y="259.60" font-size="6.9" fill="#3a3a3a" text-anchor="middle" >replicate</text>
<text x="170.85" y="267.20" font-size="6.9" fill="#3a3a3a" text-anchor="middle" >pairs (2×2)</text>
<rect x="221.5" y="224.2" width="38.50" height="48.8" fill="#e3e3e3"/>
<text x="240.75" y="236.90" font-size="8.8" fill="#333" text-anchor="middle" >11</text>
<text x="240.75" y="244.40" font-size="6.9" fill="#3a3a3a" text-anchor="middle" >met CV10*</text>
<text x="240.75" y="252.00" font-size="6.9" fill="#3a3a3a" text-anchor="middle" >in all HHT</text>
<text x="240.75" y="259.60" font-size="6.9" fill="#3a3a3a" text-anchor="middle" >replicate</text>
<text x="240.75" y="267.20" font-size="6.9" fill="#3a3a3a" text-anchor="middle" >pairs (5×2)</text>
<path d="M59.8,243.2 L78.39999999999999,243.2 L78.39999999999999,241.4 L83.8,245.5 L78.39999999999999,249.6 L78.39999999999999,247.8 L59.8,247.8 Z" fill="#2c5fa3"/>
<path d="M124.3,243.2 L142.2,243.2 L142.2,241.4 L147.6,245.5 L142.2,249.6 L142.2,247.8 L124.3,247.8 Z" fill="#2c5fa3"/>
<path d="M192.2,243.2 L210.1,243.2 L210.1,241.4 L215.5,245.5 L210.1,249.6 L210.1,247.8 L192.2,247.8 Z" fill="#2c5fa3"/>
<path d="M60.5,248.2 C68.5,248.7 76.2,257.2 76.2,277.5" fill="none" stroke="#34508a" stroke-width="0.85"/><path d="M74.7,276.9 L76.2,280.5 L77.7,276.9 Z" fill="#34508a"/>
<path d="M125.3,248.2 C133.3,248.7 140.3,257.2 140.3,277.5" fill="none" stroke="#34508a" stroke-width="0.85"/><path d="M138.8,276.9 L140.3,280.5 L141.8,276.9 Z" fill="#34508a"/>
<path d="M193,248.2 C201,248.7 207.8,257.2 207.8,277.5" fill="none" stroke="#34508a" stroke-width="0.85"/><path d="M206.3,276.9 L207.8,280.5 L209.3,276.9 Z" fill="#34508a"/>
<path d="M264,247.2 C272,247.7 281,256.2 281,277.5" fill="none" stroke="#34508a" stroke-width="0.85"/><path d="M279.5,276.9 L281,280.5 L282.5,276.9 Z" fill="#34508a"/>
<text x="78.5" y="290.30" font-size="6.55" fill="#2a2e3a" text-anchor="end"><tspan font-style="italic" fill="#3c4665">INTS14</tspan> – GC 0.14</text>
<rect x="96.4" y="284.30" width="48.00" height="6.90" fill="#d5ecee"/>
<text x="143.6" y="290.30" font-size="6.55" fill="#2a2e3a" text-anchor="end"><tspan font-style="italic" fill="#3c4665">NXF1</tspan> – GC 0.12</text>
<text x="143.6" y="298.80" font-size="6.55" fill="#2a2e3a" text-anchor="end"><tspan font-style="italic" fill="#3c4665">CNOT4</tspan> – GC 0.13</text>
<text x="143.6" y="307.30" font-size="6.55" fill="#2a2e3a" text-anchor="end"><tspan font-style="italic" fill="#3c4665">SUPT7L</tspan> – GC 0.13</text>
<text x="143.6" y="315.80" font-size="6.55" fill="#2a2e3a" text-anchor="end"><tspan font-style="italic" fill="#3c4665">PCBP1</tspan> – GC 0.14</text>
<rect x="168.5" y="284.30" width="48.00" height="24.00" fill="#d5ecee"/>
<text x="215.4" y="290.30" font-size="6.55" fill="#2a2e3a" text-anchor="end"><tspan font-style="italic" fill="#3c4665">RBM45</tspan> – 0.12</text>
<text x="215.4" y="298.80" font-size="6.55" fill="#2a2e3a" text-anchor="end"><tspan font-style="italic" fill="#3c4665">HNRNPK</tspan> – 0.12</text>
<text x="215.4" y="307.30" font-size="6.55" fill="#2a2e3a" text-anchor="end"><tspan font-style="italic" fill="#3c4665">COX4I1</tspan> – 0.12</text>
<text x="215.4" y="315.80" font-size="6.55" fill="#2a2e3a" text-anchor="end"><tspan font-style="italic" fill="#3c4665">IK</tspan> – 0.13</text>
<text x="215.4" y="324.30" font-size="6.55" fill="#2a2e3a" text-anchor="end"><tspan font-style="italic" fill="#3c4665">SNW1</tspan> – 0.13</text>
<text x="215.4" y="332.80" font-size="6.55" fill="#2a2e3a" text-anchor="end"><tspan font-style="italic" fill="#3c4665">UXT</tspan> – 0.13</text>
<text x="215.4" y="341.30" font-size="6.55" fill="#2a2e3a" text-anchor="end"><tspan font-style="italic" fill="#3c4665">C2orf49</tspan> – 0.14</text>
<text x="215.4" y="349.80" font-size="6.55" fill="#2a2e3a" text-anchor="end"><tspan font-style="italic" fill="#3c4665">CHCHD4</tspan> – 0.14</text>
<text x="215.4" y="358.30" font-size="6.55" fill="#2a2e3a" text-anchor="end"><tspan font-style="italic" fill="#3c4665">PCBP2</tspan> – 0.14</text>
<rect x="256" y="284.30" width="40.00" height="6.90" fill="#d5ecee"/>
<text x="294.2" y="290.30" font-size="6.55" fill="#2a2e3a" text-anchor="end"><tspan font-style="italic" fill="#3c4665">SF3B2</tspan> – 0.11</text>
<text x="294.2" y="298.80" font-size="6.55" fill="#2a2e3a" text-anchor="end"><tspan font-style="italic" fill="#3c4665">KAT5</tspan> – 0.13</text>
<text x="294.2" y="307.30" font-size="6.55" fill="#2a2e3a" text-anchor="end"><tspan font-style="italic" fill="#3c4665">PARK7</tspan> – 0.14</text>
<text x="294.2" y="315.80" font-size="6.55" fill="#2a2e3a" text-anchor="end"><tspan font-style="italic" fill="#3c4665">SRP19</tspan> – 0.14</text>
<text x="294.2" y="324.30" font-size="6.55" fill="#2a2e3a" text-anchor="end"><tspan font-style="italic" fill="#3c4665">UBR2</tspan> – 0.14</text>
<text x="294.2" y="332.80" font-size="6.55" fill="#2a2e3a" text-anchor="end"><tspan font-style="italic" fill="#3c4665">CHTOP</tspan> – 0.14</text>
<text x="294.2" y="341.30" font-size="6.55" fill="#2a2e3a" text-anchor="end"><tspan font-style="italic" fill="#3c4665">CLINT1</tspan> – 0.14</text>
<text x="294.2" y="349.80" font-size="6.55" fill="#2a2e3a" text-anchor="end"><tspan font-style="italic" fill="#3c4665">CNOT2</tspan> – 0.14</text>
<text x="294.2" y="358.30" font-size="6.55" fill="#2a2e3a" text-anchor="end"><tspan font-style="italic" fill="#3c4665">RPRD2</tspan> – 0.14</text>
<text x="294.2" y="366.80" font-size="6.55" fill="#2a2e3a" text-anchor="end"><tspan font-style="italic" fill="#3c4665">TXNL1</tspan> – 0.14</text>
<text x="294.2" y="375.30" font-size="6.55" fill="#2a2e3a" text-anchor="end"><tspan font-style="italic" fill="#3c4665">UBE2Q1</tspan> – 0.14</text>
<text x="314.30" y="16.90" font-size="10.8" fill="#111" text-anchor="start" font-weight="bold" >C</text>
<text x="317.40" y="31.80" font-size="8.5" fill="#111" text-anchor="start" font-weight="bold" >i</text>
<text x="420.30" y="35.90" font-size="8.6" fill="#333" text-anchor="middle" >Biplot</text>
<ellipse cx="482.7" cy="113.6" rx="26.8" ry="41.5" fill="none" stroke="#34507e" stroke-width="1"/>
<text x="473.6" y="70.6" font-size="7.6" fill="#34507e" font-style="italic">ENG<tspan font-size="4.6" dy="-3">+/−</tspan></text>
<rect x="342.5" y="41.0" width="156.20" height="154.70" fill="none" stroke="#2a2a2a" stroke-width="1.25"/>
<line x1="339.30" y1="45.40" x2="342.50" y2="45.40" stroke="#333" stroke-width="0.9"/>
<text x="337.20" y="47.50" font-size="5.9" fill="#444" text-anchor="end" >3</text>
<line x1="339.30" y1="73.70" x2="342.50" y2="73.70" stroke="#333" stroke-width="0.9"/>
<text x="337.20" y="75.80" font-size="5.9" fill="#444" text-anchor="end" >2</text>
<line x1="339.30" y1="102.00" x2="342.50" y2="102.00" stroke="#333" stroke-width="0.9"/>
<text x="337.20" y="104.10" font-size="5.9" fill="#444" text-anchor="end" >1</text>
<line x1="339.30" y1="130.30" x2="342.50" y2="130.30" stroke="#333" stroke-width="0.9"/>
<text x="337.20" y="132.40" font-size="5.9" fill="#444" text-anchor="end" >0</text>
<line x1="339.30" y1="158.60" x2="342.50" y2="158.60" stroke="#333" stroke-width="0.9"/>
<text x="337.20" y="160.70" font-size="5.9" fill="#444" text-anchor="end" >−1</text>
<line x1="339.30" y1="186.90" x2="342.50" y2="186.90" stroke="#333" stroke-width="0.9"/>
<text x="337.20" y="189.00" font-size="5.9" fill="#444" text-anchor="end" >−2</text>
<line x1="347.10" y1="195.70" x2="347.10" y2="198.70" stroke="#333" stroke-width="0.9"/>
<text x="347.10" y="206.80" font-size="5.9" fill="#444" text-anchor="middle" >−2</text>
<line x1="376.40" y1="195.70" x2="376.40" y2="198.70" stroke="#333" stroke-width="0.9"/>
<text x="376.40" y="206.80" font-size="5.9" fill="#444" text-anchor="middle" >−1</text>
<line x1="405.70" y1="195.70" x2="405.70" y2="198.70" stroke="#333" stroke-width="0.9"/>
<text x="405.70" y="206.80" font-size="5.9" fill="#444" text-anchor="middle" >0</text>
<line x1="435.00" y1="195.70" x2="435.00" y2="198.70" stroke="#333" stroke-width="0.9"/>
<text x="435.00" y="206.80" font-size="5.9" fill="#444" text-anchor="middle" >1</text>
<line x1="464.30" y1="195.70" x2="464.30" y2="198.70" stroke="#333" stroke-width="0.9"/>
<text x="464.30" y="206.80" font-size="5.9" fill="#444" text-anchor="middle" >2</text>
<line x1="493.60" y1="195.70" x2="493.60" y2="198.70" stroke="#333" stroke-width="0.9"/>
<text x="493.60" y="206.80" font-size="5.9" fill="#444" text-anchor="middle" >3</text>
<text x="420.00" y="218.80" font-size="7.4" fill="#444" text-anchor="middle" textLength="37" lengthAdjust="spacingAndGlyphs">Dimension 1</text>
<text transform="translate(325.3,118.2) rotate(-90)" font-size="7.4" fill="#444" text-anchor="middle" textLength="37" lengthAdjust="spacingAndGlyphs">Dimension 2</text>
<circle cx="432.5" cy="83" r="1.35" fill="#6b6b6b"/>
<text x="437.00" y="80.50" font-size="6.3" fill="#555" text-anchor="start" >10</text>
<circle cx="432.5" cy="107.1" r="1.35" fill="#6b6b6b"/>
<text x="436.50" y="104.00" font-size="6.3" fill="#555" text-anchor="start" >24</text>
<circle cx="415.6" cy="112.9" r="1.35" fill="#6b6b6b"/>
<text x="417.50" y="110.00" font-size="6.3" fill="#555" text-anchor="start" >7</text>
<circle cx="428.7" cy="120.4" r="1.35" fill="#6b6b6b"/>
<text x="431.50" y="119.00" font-size="6.3" fill="#555" text-anchor="start" >9</text>
<circle cx="436.9" cy="122" r="1.35" fill="#6b6b6b"/>
<text x="438.00" y="120.30" font-size="6.3" fill="#555" text-anchor="start" >6</text>
<circle cx="439.9" cy="124.9" r="1.35" fill="#6b6b6b"/>
<text x="442.50" y="127.30" font-size="6.3" fill="#555" text-anchor="start" >1</text>
<circle cx="439.9" cy="143.3" r="1.35" fill="#6b6b6b"/>
<text x="442.50" y="145.60" font-size="6.3" fill="#555" text-anchor="start" >23</text>
<circle cx="452.5" cy="145.7" r="1.35" fill="#6b6b6b"/>
<text x="455.50" y="148.00" font-size="6.3" fill="#555" text-anchor="start" >19</text>
<circle cx="472.2" cy="120.8" r="1.35" fill="#6b6b6b"/>
<text x="475.00" y="123.20" font-size="6.3" fill="#555" text-anchor="start" >12</text>
<circle cx="471.4" cy="191" r="1.35" fill="#6b6b6b"/>
<text x="474.00" y="193.40" font-size="6.3" fill="#555" text-anchor="start" >15</text>
<circle cx="402.3" cy="97.7" r="1.35" fill="#6b6b6b"/>
<text x="398.50" y="94.80" font-size="6.3" fill="#555" text-anchor="start" >22</text>
<circle cx="397.2" cy="102.3" r="1.35" fill="#6b6b6b"/>
<text x="389.50" y="100.50" font-size="6.3" fill="#555" text-anchor="start" >17</text>
<circle cx="398.5" cy="106.5" r="1.35" fill="#6b6b6b"/>
<text x="401.50" y="108.80" font-size="6.3" fill="#555" text-anchor="start" >2</text>
<circle cx="384.6" cy="105.4" r="1.35" fill="#6b6b6b"/>
<text x="380.00" y="101.80" font-size="6.3" fill="#555" text-anchor="start" >16</text>
<circle cx="380.8" cy="117.7" r="1.35" fill="#6b6b6b"/>
<text x="374.20" y="116.30" font-size="6.3" fill="#555" text-anchor="start" >3</text>
<circle cx="348.5" cy="117.7" r="1.35" fill="#6b6b6b"/>
<text x="342.80" y="120.20" font-size="6.3" fill="#555" text-anchor="start" >11</text>
<circle cx="358.3" cy="128.5" r="1.35" fill="#6b6b6b"/>
<text x="350.00" y="131.00" font-size="6.3" fill="#555" text-anchor="start" >13</text>
<circle cx="352" cy="146.2" r="1.35" fill="#6b6b6b"/>
<text x="344.50" y="148.50" font-size="6.3" fill="#555" text-anchor="start" >20</text>
<circle cx="359.2" cy="152" r="1.35" fill="#6b6b6b"/>
<text x="352.00" y="158.20" font-size="6.3" fill="#555" text-anchor="start" >14</text>
<circle cx="354.4" cy="168.8" r="1.35" fill="#6b6b6b"/>
<text x="349.80" y="174.80" font-size="6.3" fill="#555" text-anchor="start" >5</text>
<circle cx="418.5" cy="184" r="1.35" fill="#6b6b6b"/>
<text x="416.50" y="192.30" font-size="6.3" fill="#555" text-anchor="start" >8</text>
<text x="361.50" y="146.70" font-size="6.3" fill="#555" text-anchor="start" >4</text>
<text x="388.50" y="151.30" font-size="6.3" fill="#555" text-anchor="start" >18</text>
<line x1="405.6" y1="130.0" x2="373.15" y2="69.01" stroke="#2f6636" stroke-width="1.0"/><path d="M370.80,64.60 L375.09,67.98 L371.21,70.05 Z" fill="#2f6636"/>
<line x1="405.6" y1="130.0" x2="363.98" y2="87.09" stroke="#2f6636" stroke-width="1.0"/><path d="M360.50,83.50 L365.56,85.56 L362.40,88.62 Z" fill="#2f6636"/>
<line x1="405.6" y1="130.0" x2="363.36" y2="119.78" stroke="#2f6636" stroke-width="1.0"/><path d="M358.50,118.60 L363.88,117.64 L362.84,121.91 Z" fill="#2f6636"/>
<line x1="405.6" y1="130.0" x2="360.42" y2="121.88" stroke="#2f6636" stroke-width="1.0"/><path d="M355.50,121.00 L360.81,119.72 L360.03,124.05 Z" fill="#2f6636"/>
<line x1="405.6" y1="130.0" x2="401.60" y2="127.41" stroke="#2f6636" stroke-width="1.0"/><path d="M397.40,124.70 L402.79,125.57 L400.41,129.26 Z" fill="#2f6636"/>
<line x1="405.6" y1="130.0" x2="393.81" y2="138.16" stroke="#2f6636" stroke-width="1.0"/><path d="M389.70,141.00 L392.56,136.35 L395.06,139.96 Z" fill="#2f6636"/>
<line x1="405.6" y1="130.0" x2="376.25" y2="139.73" stroke="#2f6636" stroke-width="1.0"/><path d="M371.50,141.30 L375.55,137.64 L376.94,141.82 Z" fill="#2f6636"/>
<line x1="405.6" y1="130.0" x2="398.51" y2="148.24" stroke="#2f6636" stroke-width="1.0"/><path d="M396.70,152.90 L396.46,147.44 L400.56,149.04 Z" fill="#2f6636"/>
<line x1="405.6" y1="130.0" x2="407.04" y2="157.51" stroke="#2f6636" stroke-width="1.0"/><path d="M407.30,162.50 L404.84,157.62 L409.24,157.39 Z" fill="#2f6636"/>
<line x1="405.6" y1="130.0" x2="383.12" y2="172.87" stroke="#2f6636" stroke-width="1.0"/><path d="M380.80,177.30 L381.17,171.85 L385.07,173.89 Z" fill="#2f6636"/>
<line x1="405.6" y1="130.0" x2="395.84" y2="175.91" stroke="#2f6636" stroke-width="1.0"/><path d="M394.80,180.80 L393.69,175.45 L397.99,176.37 Z" fill="#2f6636"/>
<line x1="405.6" y1="130.0" x2="462.80" y2="92.92" stroke="#2f6636" stroke-width="1.0"/><path d="M467.00,90.20 L464.00,94.77 L461.61,91.07 Z" fill="#2f6636"/>
<line x1="405.6" y1="130.0" x2="482.16" y2="109.87" stroke="#2f6636" stroke-width="1.0"/><path d="M487.00,108.60 L482.72,112.00 L481.60,107.74 Z" fill="#2f6636"/>
<line x1="405.6" y1="130.0" x2="470.20" y2="128.24" stroke="#2f6636" stroke-width="1.0"/><path d="M475.20,128.10 L470.26,130.44 L470.14,126.04 Z" fill="#2f6636"/>
<line x1="405.6" y1="130.0" x2="481.72" y2="146.92" stroke="#2f6636" stroke-width="1.0"/><path d="M486.60,148.00 L481.24,149.06 L482.20,144.77 Z" fill="#2f6636"/>
<text x="360.80" y="63.70" font-size="6.5" fill="#7f9c6c" text-anchor="start" font-style="italic" >C2</text>
<text x="349.50" y="83.50" font-size="6.5" fill="#7f9c6c" text-anchor="start" font-style="italic" >C1</text>
<text x="333.00" y="122.20" font-size="6.3" fill="#8a9a8a" text-anchor="start" font-style="italic" >A1</text>
<text x="344" y="115.2" font-size="5.9" fill="#7f9c6c" font-style="italic">SMAD4<tspan font-size="3.66" dy="-2.6">−/−</tspan><tspan dy="2.6">3</tspan></text>
<text x="344" y="127.6" font-size="5.9" fill="#7f9c6c" font-style="italic">ACVRL1<tspan font-size="3.66" dy="-2.6">−/−</tspan><tspan dy="2.6">1</tspan></text>
<text x="367.6" y="121.4" font-size="5.9" fill="#7f9c6c" font-style="italic">ACVRL1<tspan font-size="3.66" dy="-2.6">−/−</tspan><tspan dy="2.6">5</tspan></text>
<text x="365.5" y="134.5" font-size="5.9" fill="#7f9c6c" font-style="italic">ACVRL1<tspan font-size="3.66" dy="-2.6">−/−</tspan><tspan dy="2.6">3</tspan></text>
<text x="344.5" y="141.4" font-size="5.9" fill="#7f9c6c" font-style="italic">ACVRL1<tspan font-size="3.66" dy="-2.6">−/−</tspan><tspan dy="2.6">4</tspan></text>
<text x="381.50" y="147.60" font-size="6.3" fill="#7f9c6c" text-anchor="start" font-style="italic" >C3</text>
<text x="392.50" y="160.00" font-size="6.3" fill="#7f9c6c" text-anchor="start" font-style="italic" >C4</text>
<text x="403.6" y="171" font-size="5.9" fill="#7f9c6c" font-style="italic">SMAD4<tspan font-size="3.66" dy="-2.6">−/−</tspan><tspan dy="2.6">1</tspan></text>
<text x="352.4" y="182" font-size="5.9" fill="#7f9c6c" font-style="italic">SMAD4<tspan font-size="3.66" dy="-2.6">−/−</tspan><tspan dy="2.6">2</tspan></text>
<text x="381.3" y="186.4" font-size="5.9" fill="#7f9c6c" font-style="italic">ACVRL1<tspan font-size="3.66" dy="-2.6">−/−</tspan><tspan dy="2.6">2</tspan></text>
<text x="466.5" y="88" font-size="6.3" fill="#6f7572">ENG<tspan font-size="3.91" dy="-2.6">+/−</tspan><tspan dy="2.6">4</tspan></text>
<text x="478.5" y="105.6" font-size="6.3" fill="#6f7572">ENG<tspan font-size="3.91" dy="-2.6">−/−</tspan><tspan dy="2.6">2</tspan></text>
<text x="477" y="129.4" font-size="6.3" fill="#6f7572">ENG<tspan font-size="3.91" dy="-2.6">+/−</tspan><tspan dy="2.6">3</tspan></text>
<text x="475" y="143.8" font-size="6.3" fill="#6f7572">ENG<tspan font-size="3.91" dy="-2.6">−/−</tspan><tspan dy="2.6">1</tspan></text>
<text x="315.60" y="246.60" font-size="8.7" fill="#111" text-anchor="start" font-weight="bold" >ii</text>
<text x="426.50" y="256.20" font-size="8.6" fill="#333" text-anchor="middle" >Factor Loadings</text>
<ellipse cx="362.9" cy="331.6" rx="17.9" ry="28.9" fill="#cad4ee" opacity="1" filter="url(#sb)"/>
<ellipse cx="467" cy="284.3" rx="13" ry="10" fill="#fdf4e2" opacity="1" filter="url(#sb)"/>
<ellipse cx="421.5" cy="320.3" rx="14" ry="9.5" fill="#fdf4e2" opacity="1" filter="url(#sb)"/>
<ellipse cx="474.4" cy="325" rx="14" ry="8.5" fill="#fdf4e2" opacity="1" filter="url(#sb)"/>
<ellipse cx="445" cy="286.7" rx="11.4" ry="7" fill="#eac6db" opacity="1" filter="url(#sb)"/>
<ellipse cx="489" cy="310.4" rx="11.8" ry="8.3" fill="#eac6db" opacity="1" filter="url(#sb)"/>
<ellipse cx="490" cy="340" rx="12" ry="8.5" fill="#eac6db" opacity="1" filter="url(#sb)"/>
<ellipse cx="439.3" cy="355.5" rx="25.6" ry="8.3" fill="#eac6db" opacity="1" filter="url(#sb)"/>
<ellipse cx="451.4" cy="310.8" rx="11.7" ry="13" fill="#eaeaee" opacity="1" filter="url(#sb)"/>
<ellipse cx="479.7" cy="362.7" rx="17" ry="5.2" fill="#eaeaee" opacity="1" filter="url(#sb)"/>
<line x1="422.30" y1="317.00" x2="445.50" y2="293.00" stroke="#cfcfcf" stroke-width="0.8"/>
<line x1="445.70" y1="286.00" x2="445.70" y2="298.00" stroke="#cfcfcf" stroke-width="0.8"/>
<line x1="446.20" y1="323.50" x2="446.20" y2="355.00" stroke="#cfcfcf" stroke-width="0.8"/>
<line x1="446.20" y1="355.00" x2="483.60" y2="325.00" stroke="#cfcfcf" stroke-width="0.8"/>
<line x1="350.30" y1="341.10" x2="354.30" y2="319.00" stroke="#444" stroke-width="1.0"/>
<line x1="356.60" y1="323.60" x2="367.40" y2="328.40" stroke="#444" stroke-width="1.0"/>
<line x1="443.80" y1="306.60" x2="453.80" y2="315.70" stroke="#444" stroke-width="1.0"/>
<line x1="466.50" y1="365.00" x2="474.00" y2="360.30" stroke="#444" stroke-width="0.9"/>
<circle cx="354.3" cy="319" r="1.3" fill="#555"/>
<circle cx="356.6" cy="323.6" r="1.3" fill="#555"/>
<circle cx="367.4" cy="328.4" r="1.3" fill="#555"/>
<circle cx="350.3" cy="341.1" r="1.3" fill="#555"/>
<circle cx="445.8" cy="285.7" r="1.3" fill="#555"/>
<circle cx="466.5" cy="280.5" r="1.3" fill="#555"/>
<circle cx="443.8" cy="306.6" r="1.3" fill="#555"/>
<circle cx="453.8" cy="315.7" r="1.3" fill="#555"/>
<circle cx="422.3" cy="317" r="1.3" fill="#555"/>
<circle cx="490" cy="313" r="1.3" fill="#555"/>
<circle cx="483.6" cy="325" r="1.3" fill="#555"/>
<circle cx="494.7" cy="335.4" r="1.3" fill="#555"/>
<circle cx="438" cy="355.7" r="1.3" fill="#555"/>
<circle cx="446.2" cy="359" r="1.3" fill="#555"/>
<circle cx="474" cy="360.3" r="1.3" fill="#555"/>
<circle cx="466.5" cy="365" r="1.3" fill="#555"/>
<text x="360.00" y="317.80" font-size="4.2" fill="#6b7aa0" text-anchor="middle" >ENG 1</text>
<text x="366.00" y="324.60" font-size="4.2" fill="#6b7aa0" text-anchor="middle" >ENG 3</text>
<text x="371.00" y="335.00" font-size="4.2" fill="#6b7aa0" text-anchor="middle" >ENG 4</text>
<text x="354.50" y="346.60" font-size="4.2" fill="#6b7aa0" text-anchor="middle" >ENG 2</text>
<text x="445.00" y="291.80" font-size="4.2" fill="#b07a9a" text-anchor="middle" >ACVRL1 2</text>
<text x="470.00" y="286.50" font-size="4.2" fill="#d8b070" text-anchor="middle" >SMAD4 2</text>
<text x="454.00" y="304.50" font-size="4.2" fill="#8a8a8a" text-anchor="middle" >Control 4</text>
<text x="451.00" y="321.50" font-size="4.2" fill="#8a8a8a" text-anchor="middle" >Control3</text>
<text x="420.00" y="323.00" font-size="4.2" fill="#d8b070" text-anchor="middle" >SMAD4 1</text>
<text x="488.50" y="311.80" font-size="4.2" fill="#b07a9a" text-anchor="middle" >ACVRL1 4</text>
<text x="474.20" y="326.60" font-size="4.2" fill="#d8b070" text-anchor="middle" >SMAD4 3</text>
<text x="489.50" y="342.00" font-size="4.2" fill="#b07a9a" text-anchor="middle" >ACVRL1 1</text>
<text x="427.00" y="357.00" font-size="4.2" fill="#b07a9a" text-anchor="middle" >ACVRL1 5</text>
<text x="455.00" y="357.00" font-size="4.2" fill="#b07a9a" text-anchor="middle" >ACVRL1 3</text>
<text x="485.00" y="361.60" font-size="4.2" fill="#8a8a8a" text-anchor="middle" >Control 1</text>
<text x="478.50" y="366.80" font-size="4.2" fill="#8a8a8a" text-anchor="middle" >Control2</text>
<rect x="340.4" y="261.3" width="172.90" height="107.50" fill="none" stroke="#2a2a2a" stroke-width="1.25"/>
<line x1="337.40" y1="263.40" x2="340.40" y2="263.40" stroke="#333" stroke-width="0.9"/>
<text x="334.60" y="265.50" font-size="5.9" fill="#444" text-anchor="end" >1</text>
<line x1="337.40" y1="295.35" x2="340.40" y2="295.35" stroke="#333" stroke-width="0.9"/>
<text x="334.60" y="297.45" font-size="5.9" fill="#444" text-anchor="end" >.5</text>
<line x1="337.40" y1="327.30" x2="340.40" y2="327.30" stroke="#333" stroke-width="0.9"/>
<text x="334.60" y="329.40" font-size="5.9" fill="#444" text-anchor="end" >0</text>
<line x1="337.40" y1="359.25" x2="340.40" y2="359.25" stroke="#333" stroke-width="0.9"/>
<text x="334.60" y="361.35" font-size="5.9" fill="#444" text-anchor="end" >−.5</text>
<line x1="343.20" y1="368.80" x2="343.20" y2="371.80" stroke="#333" stroke-width="0.9"/>
<text x="343.20" y="380.40" font-size="5.9" fill="#444" text-anchor="middle" >−1</text>
<line x1="384.95" y1="368.80" x2="384.95" y2="371.80" stroke="#333" stroke-width="0.9"/>
<text x="384.95" y="380.40" font-size="5.9" fill="#444" text-anchor="middle" >−.5</text>
<line x1="426.70" y1="368.80" x2="426.70" y2="371.80" stroke="#333" stroke-width="0.9"/>
<text x="426.70" y="380.40" font-size="5.9" fill="#444" text-anchor="middle" >0</text>
<line x1="468.45" y1="368.80" x2="468.45" y2="371.80" stroke="#333" stroke-width="0.9"/>
<text x="468.45" y="380.40" font-size="5.9" fill="#444" text-anchor="middle" >.5</text>
<line x1="510.20" y1="368.80" x2="510.20" y2="371.80" stroke="#333" stroke-width="0.9"/>
<text x="510.20" y="380.40" font-size="5.9" fill="#444" text-anchor="middle" >1</text>
<text x="426.20" y="392.10" font-size="7.5" fill="#444" text-anchor="middle" textLength="22.5" lengthAdjust="spacingAndGlyphs">Factor 1</text>
<text transform="translate(321.3,315.4) rotate(-90)" font-size="7.5" fill="#444" text-anchor="middle" textLength="23" lengthAdjust="spacingAndGlyphs">Factor 2</text>
<text x="7.40" y="405.10" font-size="10.8" fill="#111" text-anchor="start" font-weight="bold" >D</text>
<rect x="59.20" y="558.8" width="20.56" height="12.0" fill="#dde3f3" shape-rendering="crispEdges"/>
<rect x="79.45" y="558.8" width="22.68" height="12.0" fill="#dde3f3" shape-rendering="crispEdges"/>
<rect x="101.82" y="558.8" width="22.68" height="12.0" fill="#dde3f3" shape-rendering="crispEdges"/>
<rect x="124.19" y="558.8" width="22.68" height="12.0" fill="#dde3f3" shape-rendering="crispEdges"/>
<rect x="146.56" y="558.8" width="22.68" height="12.0" fill="#fcf4dc" shape-rendering="crispEdges"/>
<rect x="168.93" y="558.8" width="22.68" height="12.0" fill="#fcf4dc" shape-rendering="crispEdges"/>
<rect x="191.30" y="558.8" width="22.68" height="12.0" fill="#f1d2e3" shape-rendering="crispEdges"/>
<rect x="213.67" y="558.8" width="22.68" height="12.0" fill="#f1d2e3" shape-rendering="crispEdges"/>
<rect x="236.04" y="558.8" width="22.68" height="12.0" fill="#fcf4dc" shape-rendering="crispEdges"/>
<rect x="258.41" y="558.8" width="22.68" height="12.0" fill="#f1d2e3" shape-rendering="crispEdges"/>
<rect x="280.78" y="558.8" width="22.68" height="12.0" fill="#f1d2e3" shape-rendering="crispEdges"/>
<rect x="303.15" y="558.8" width="16.35" height="12.0" fill="#f1d2e3" shape-rendering="crispEdges"/>
<line x1="45.90" y1="557.00" x2="45.90" y2="559.80" stroke="#333" stroke-width="0.9"/>
<text x="45.90" y="568.50" font-size="6.3" fill="#444" text-anchor="middle" >C1-4</text>
<line x1="68.27" y1="557.00" x2="68.27" y2="559.80" stroke="#333" stroke-width="0.9"/>
<text x="68.27" y="568.50" font-size="6.3" fill="#444" text-anchor="middle" >E1</text>
<line x1="90.64" y1="557.00" x2="90.64" y2="559.80" stroke="#333" stroke-width="0.9"/>
<text x="90.64" y="568.50" font-size="6.3" fill="#444" text-anchor="middle" >E2</text>
<line x1="113.01" y1="557.00" x2="113.01" y2="559.80" stroke="#333" stroke-width="0.9"/>
<text x="113.01" y="568.50" font-size="6.3" fill="#444" text-anchor="middle" >E3</text>
<line x1="135.38" y1="557.00" x2="135.38" y2="559.80" stroke="#333" stroke-width="0.9"/>
<text x="135.38" y="568.50" font-size="6.3" fill="#444" text-anchor="middle" >E4</text>
<line x1="157.75" y1="557.00" x2="157.75" y2="559.80" stroke="#333" stroke-width="0.9"/>
<text x="157.75" y="568.50" font-size="6.3" fill="#444" text-anchor="middle" >S1</text>
<line x1="180.12" y1="557.00" x2="180.12" y2="559.80" stroke="#333" stroke-width="0.9"/>
<text x="180.12" y="568.50" font-size="6.3" fill="#444" text-anchor="middle" >S3</text>
<line x1="202.49" y1="557.00" x2="202.49" y2="559.80" stroke="#333" stroke-width="0.9"/>
<text x="202.49" y="568.50" font-size="6.3" fill="#444" text-anchor="middle" >A5</text>
<line x1="224.86" y1="557.00" x2="224.86" y2="559.80" stroke="#333" stroke-width="0.9"/>
<text x="224.86" y="568.50" font-size="6.3" fill="#444" text-anchor="middle" >A1</text>
<line x1="247.23" y1="557.00" x2="247.23" y2="559.80" stroke="#333" stroke-width="0.9"/>
<text x="247.23" y="568.50" font-size="6.3" fill="#444" text-anchor="middle" >S2</text>
<line x1="269.60" y1="557.00" x2="269.60" y2="559.80" stroke="#333" stroke-width="0.9"/>
<text x="269.60" y="568.50" font-size="6.3" fill="#444" text-anchor="middle" >A3</text>
<line x1="291.97" y1="557.00" x2="291.97" y2="559.80" stroke="#333" stroke-width="0.9"/>
<text x="291.97" y="568.50" font-size="6.3" fill="#444" text-anchor="middle" >A4</text>
<line x1="314.34" y1="557.00" x2="314.34" y2="559.80" stroke="#333" stroke-width="0.9"/>
<text x="314.34" y="568.50" font-size="6.3" fill="#444" text-anchor="middle" >A2</text>
<rect x="35.40" y="580.0" width="22.5" height="11.8" fill="#d4d4d4" shape-rendering="crispEdges"/>
<line x1="46.49" y1="577.60" x2="46.49" y2="580.00" stroke="#333" stroke-width="0.9"/>
<rect x="57.58" y="580.0" width="22.5" height="11.8" fill="#1b557f" shape-rendering="crispEdges"/>
<line x1="68.67" y1="577.60" x2="68.67" y2="580.00" stroke="#333" stroke-width="0.9"/>
<text x="68.67" y="588.20" font-size="6.2" fill="#e6eef3" text-anchor="middle" >22</text>
<rect x="79.76" y="580.0" width="22.5" height="11.8" fill="#1d5a84" shape-rendering="crispEdges"/>
<line x1="90.85" y1="577.60" x2="90.85" y2="580.00" stroke="#333" stroke-width="0.9"/>
<text x="90.85" y="588.20" font-size="6.2" fill="#e6eef3" text-anchor="middle" >21</text>
<rect x="101.94" y="580.0" width="22.5" height="11.8" fill="#2c6b92" shape-rendering="crispEdges"/>
<line x1="113.03" y1="577.60" x2="113.03" y2="580.00" stroke="#333" stroke-width="0.9"/>
<text x="113.03" y="588.20" font-size="6.2" fill="#e6eef3" text-anchor="middle" >17</text>
<rect x="124.12" y="580.0" width="22.5" height="11.8" fill="#3a7899" shape-rendering="crispEdges"/>
<line x1="135.21" y1="577.60" x2="135.21" y2="580.00" stroke="#333" stroke-width="0.9"/>
<text x="135.21" y="588.20" font-size="6.2" fill="#e6eef3" text-anchor="middle" >15</text>
<rect x="146.30" y="580.0" width="22.5" height="11.8" fill="#41809f" shape-rendering="crispEdges"/>
<line x1="157.39" y1="577.60" x2="157.39" y2="580.00" stroke="#333" stroke-width="0.9"/>
<text x="157.39" y="588.20" font-size="6.2" fill="#e6eef3" text-anchor="middle" >14</text>
<rect x="168.48" y="580.0" width="22.5" height="11.8" fill="#5a92b0" shape-rendering="crispEdges"/>
<line x1="179.57" y1="577.60" x2="179.57" y2="580.00" stroke="#333" stroke-width="0.9"/>
<text x="179.57" y="588.20" font-size="6.2" fill="#e6eef3" text-anchor="middle" >11</text>
<rect x="190.66" y="580.0" width="22.5" height="11.8" fill="#5d94b2" shape-rendering="crispEdges"/>
<line x1="201.75" y1="577.60" x2="201.75" y2="580.00" stroke="#333" stroke-width="0.9"/>
<text x="201.75" y="588.20" font-size="6.2" fill="#e6eef3" text-anchor="middle" >11</text>
<rect x="212.84" y="580.0" width="22.5" height="11.8" fill="#6a9cb7" shape-rendering="crispEdges"/>
<line x1="223.93" y1="577.60" x2="223.93" y2="580.00" stroke="#333" stroke-width="0.9"/>
<text x="223.93" y="588.20" font-size="6.2" fill="#e6eef3" text-anchor="middle" >10</text>
<rect x="235.02" y="580.0" width="22.5" height="11.8" fill="#6c9eb9" shape-rendering="crispEdges"/>
<line x1="246.11" y1="577.60" x2="246.11" y2="580.00" stroke="#333" stroke-width="0.9"/>
<text x="246.11" y="588.20" font-size="6.2" fill="#e6eef3" text-anchor="middle" >10</text>
<rect x="257.20" y="580.0" width="22.5" height="11.8" fill="#77a5bd" shape-rendering="crispEdges"/>
<line x1="268.29" y1="577.60" x2="268.29" y2="580.00" stroke="#333" stroke-width="0.9"/>
<text x="268.29" y="588.20" font-size="6.2" fill="#e6eef3" text-anchor="middle" >9</text>
<rect x="279.38" y="580.0" width="22.5" height="11.8" fill="#79a7be" shape-rendering="crispEdges"/>
<line x1="290.47" y1="577.60" x2="290.47" y2="580.00" stroke="#333" stroke-width="0.9"/>
<text x="290.47" y="588.20" font-size="6.2" fill="#e6eef3" text-anchor="middle" >9</text>
<rect x="301.56" y="580.0" width="22.5" height="11.8" fill="#82adc3" shape-rendering="crispEdges"/>
<line x1="312.65" y1="577.60" x2="312.65" y2="580.00" stroke="#333" stroke-width="0.9"/>
<text x="312.65" y="588.20" font-size="6.2" fill="#e6eef3" text-anchor="middle" >8</text>
<rect x="42.489999999999995" y="582" width="7" height="8" fill="#dcdcdc"/>
<text x="35.60" y="601.20" font-size="6.8" fill="#3a3a3a" text-anchor="start" textLength="21.2" lengthAdjust="spacingAndGlyphs">Control</text>
<text x="87.00" y="601.20" font-size="7.0" fill="#3a3a3a" text-anchor="start" textLength="207" lengthAdjust="spacingAndGlyphs">HHT BOECs ranked from highest to lowest PTC persistence (% wildtype)</text>
<rect x="41.0" y="406.8" width="278.20" height="150.20" fill="none" stroke="#2a2a2a" stroke-width="1.25"/>
<line x1="38.00" y1="552.20" x2="41.00" y2="552.20" stroke="#333" stroke-width="0.9"/>
<text x="35.30" y="554.30" font-size="6.0" fill="#333" text-anchor="end" >1</text>
<line x1="38.00" y1="542.84" x2="41.00" y2="542.84" stroke="#333" stroke-width="0.9"/>
<text x="35.30" y="544.94" font-size="6.0" fill="#333" text-anchor="end" >2</text>
<line x1="38.00" y1="533.48" x2="41.00" y2="533.48" stroke="#333" stroke-width="0.9"/>
<text x="35.30" y="535.58" font-size="6.0" fill="#333" text-anchor="end" >3</text>
<line x1="38.00" y1="524.12" x2="41.00" y2="524.12" stroke="#333" stroke-width="0.9"/>
<text x="35.30" y="526.22" font-size="6.0" fill="#333" text-anchor="end" >4</text>
<line x1="38.00" y1="514.76" x2="41.00" y2="514.76" stroke="#333" stroke-width="0.9"/>
<text x="35.30" y="516.86" font-size="6.0" fill="#333" text-anchor="end" >5</text>
<line x1="38.00" y1="505.40" x2="41.00" y2="505.40" stroke="#333" stroke-width="0.9"/>
<text x="35.30" y="507.50" font-size="6.0" fill="#333" text-anchor="end" >6</text>
<line x1="38.00" y1="496.04" x2="41.00" y2="496.04" stroke="#333" stroke-width="0.9"/>
<text x="35.30" y="498.14" font-size="6.0" fill="#333" text-anchor="end" >7</text>
<line x1="38.00" y1="486.68" x2="41.00" y2="486.68" stroke="#333" stroke-width="0.9"/>
<text x="35.30" y="488.78" font-size="6.0" fill="#333" text-anchor="end" >8</text>
<line x1="38.00" y1="477.32" x2="41.00" y2="477.32" stroke="#333" stroke-width="0.9"/>
<text x="35.30" y="479.42" font-size="6.0" fill="#333" text-anchor="end" >9</text>
<line x1="38.00" y1="467.96" x2="41.00" y2="467.96" stroke="#333" stroke-width="0.9"/>
<text x="35.30" y="470.06" font-size="6.0" fill="#333" text-anchor="end" >10</text>
<line x1="38.00" y1="458.60" x2="41.00" y2="458.60" stroke="#333" stroke-width="0.9"/>
<text x="35.30" y="460.70" font-size="6.0" fill="#333" text-anchor="end" >11</text>
<line x1="38.00" y1="449.24" x2="41.00" y2="449.24" stroke="#333" stroke-width="0.9"/>
<text x="35.30" y="451.34" font-size="6.0" fill="#333" text-anchor="end" >12</text>
<line x1="38.00" y1="439.88" x2="41.00" y2="439.88" stroke="#333" stroke-width="0.9"/>
<text x="35.30" y="441.98" font-size="6.0" fill="#333" text-anchor="end" >13</text>
<line x1="38.00" y1="430.52" x2="41.00" y2="430.52" stroke="#333" stroke-width="0.9"/>
<text x="35.30" y="432.62" font-size="6.0" fill="#333" text-anchor="end" >14</text>
<line x1="38.00" y1="421.16" x2="41.00" y2="421.16" stroke="#333" stroke-width="0.9"/>
<text x="35.30" y="423.26" font-size="6.0" fill="#333" text-anchor="end" >15</text>
<line x1="38.00" y1="411.80" x2="41.00" y2="411.80" stroke="#333" stroke-width="0.9"/>
<text x="35.30" y="413.90" font-size="6.0" fill="#333" text-anchor="end" >16</text>
<text transform="translate(24.1,482.2) rotate(-90)" font-size="7.2" fill="#444" text-anchor="middle" textLength="40.8" lengthAdjust="spacingAndGlyphs">Transcript rank</text>
<rect x="54.7" y="555" width="5" height="4" fill="#fff"/>
<line x1="54.20" y1="558.20" x2="56.70" y2="555.60" stroke="#333" stroke-width="0.8"/>
<line x1="56.70" y1="558.20" x2="59.20" y2="555.60" stroke="#333" stroke-width="0.8"/>
<rect x="165.9" y="555" width="5" height="4" fill="#fff"/>
<line x1="165.40" y1="558.20" x2="167.90" y2="555.60" stroke="#333" stroke-width="0.8"/>
<line x1="167.90" y1="558.20" x2="170.40" y2="555.60" stroke="#333" stroke-width="0.8"/>
<line x1="45.90" y1="411.80" x2="45.90" y2="552.20" stroke="#a9bccb" stroke-width="1.3"/>
<path d="M45.90,430.52 L68.27,449.24 L90.64,505.40 L113.01,477.32 L135.38,467.96 L157.75,458.60 L180.12,496.04 L202.49,546.58 L224.86,514.76 L247.23,486.68 L269.60,552.20 L291.97,533.48 L314.34,524.12" fill="none" stroke="#e5512f" stroke-width="1.1"/>
<circle cx="45.90" cy="430.52" r="2.25" fill="#e5512f"/>
<circle cx="68.27" cy="449.24" r="2.25" fill="#e5512f"/>
<circle cx="90.64" cy="505.40" r="2.25" fill="#e5512f"/>
<circle cx="113.01" cy="477.32" r="2.25" fill="#e5512f"/>
<circle cx="135.38" cy="467.96" r="2.25" fill="#e5512f"/>
<circle cx="157.75" cy="458.60" r="2.25" fill="#e5512f"/>
<circle cx="180.12" cy="496.04" r="2.25" fill="#e5512f"/>
<circle cx="202.49" cy="546.58" r="2.25" fill="#e5512f"/>
<circle cx="224.86" cy="514.76" r="2.25" fill="#e5512f"/>
<circle cx="247.23" cy="486.68" r="2.25" fill="#e5512f"/>
<circle cx="269.60" cy="552.20" r="2.25" fill="#e5512f"/>
<circle cx="291.97" cy="533.48" r="2.25" fill="#e5512f"/>
<circle cx="314.34" cy="524.12" r="2.25" fill="#e5512f"/>
<path d="M45.90,421.16 L68.27,458.60 L90.64,496.04 L113.01,514.76 L135.38,477.32 L157.75,467.96 L180.12,449.24 L202.49,546.58 L224.86,505.40 L247.23,467.96 L269.60,552.20 L291.97,524.12 L314.34,533.48" fill="none" stroke="#2d5c3c" stroke-width="1.1"/>
<circle cx="45.90" cy="439.88" r="2.25" fill="#2d5c3c"/>
<circle cx="45.90" cy="458.13" r="2.25" fill="#2d5c3c"/>
<circle cx="45.90" cy="421.16" r="2.25" fill="#2d5c3c"/>
<circle cx="68.27" cy="458.60" r="2.25" fill="#2d5c3c"/>
<circle cx="90.64" cy="496.04" r="2.25" fill="#2d5c3c"/>
<circle cx="113.01" cy="514.76" r="2.25" fill="#2d5c3c"/>
<circle cx="135.38" cy="477.32" r="2.25" fill="#2d5c3c"/>
<circle cx="157.75" cy="467.96" r="2.25" fill="#2d5c3c"/>
<circle cx="180.12" cy="449.24" r="2.25" fill="#2d5c3c"/>
<circle cx="202.49" cy="546.58" r="2.25" fill="#2d5c3c"/>
<circle cx="224.86" cy="505.40" r="2.25" fill="#2d5c3c"/>
<circle cx="247.23" cy="467.96" r="2.25" fill="#2d5c3c"/>
<circle cx="269.60" cy="552.20" r="2.25" fill="#2d5c3c"/>
<circle cx="291.97" cy="524.12" r="2.25" fill="#2d5c3c"/>
<circle cx="314.34" cy="533.48" r="2.25" fill="#2d5c3c"/>
<path d="M45.90,439.88 L68.27,533.48 L90.64,524.12 L113.01,542.84 L135.38,505.40 L157.75,486.68 L180.12,439.88 L202.49,546.58 L224.86,458.60 L247.23,467.96 L269.60,514.76 L291.97,477.32 L314.34,496.04" fill="none" stroke="#1c3560" stroke-width="1.1"/>
<circle cx="45.90" cy="411.80" r="2.25" fill="#1c3560"/>
<circle cx="45.90" cy="430.52" r="2.25" fill="#1c3560"/>
<circle cx="45.90" cy="449.24" r="2.25" fill="#1c3560"/>
<circle cx="45.90" cy="439.88" r="2.25" fill="#1c3560"/>
<circle cx="68.27" cy="533.48" r="2.25" fill="#1c3560"/>
<circle cx="90.64" cy="524.12" r="2.25" fill="#1c3560"/>
<circle cx="113.01" cy="542.84" r="2.25" fill="#1c3560"/>
<circle cx="135.38" cy="505.40" r="2.25" fill="#1c3560"/>
<circle cx="157.75" cy="486.68" r="2.25" fill="#1c3560"/>
<circle cx="180.12" cy="439.88" r="2.25" fill="#1c3560"/>
<circle cx="202.49" cy="546.58" r="2.25" fill="#1c3560"/>
<circle cx="224.86" cy="458.60" r="2.25" fill="#1c3560"/>
<circle cx="247.23" cy="467.96" r="2.25" fill="#1c3560"/>
<circle cx="269.60" cy="514.76" r="2.25" fill="#1c3560"/>
<circle cx="291.97" cy="477.32" r="2.25" fill="#1c3560"/>
<circle cx="314.34" cy="496.04" r="2.25" fill="#1c3560"/>
<path d="M45.90,552.20 L68.27,411.80 L90.64,439.88 L113.01,430.52 L135.38,477.32 L157.75,421.16 L180.12,486.68 L202.49,552.20 L224.86,542.84 L247.23,449.24 L269.60,533.48 L291.97,524.12 L314.34,496.04" fill="none" stroke="#8b1d36" stroke-width="1.1"/>
<circle cx="45.90" cy="467.96" r="2.25" fill="#8b1d36"/>
<circle cx="45.90" cy="505.40" r="2.25" fill="#8b1d36"/>
<circle cx="45.90" cy="552.20" r="2.25" fill="#8b1d36"/>
<circle cx="68.27" cy="411.80" r="2.25" fill="#8b1d36"/>
<circle cx="90.64" cy="439.88" r="2.25" fill="#8b1d36"/>
<circle cx="113.01" cy="430.52" r="2.25" fill="#8b1d36"/>
<circle cx="135.38" cy="477.32" r="2.25" fill="#8b1d36"/>
<circle cx="157.75" cy="421.16" r="2.25" fill="#8b1d36"/>
<circle cx="180.12" cy="486.68" r="2.25" fill="#8b1d36"/>
<circle cx="202.49" cy="552.20" r="2.25" fill="#8b1d36"/>
<circle cx="224.86" cy="542.84" r="2.25" fill="#8b1d36"/>
<circle cx="247.23" cy="449.24" r="2.25" fill="#8b1d36"/>
<circle cx="269.60" cy="533.48" r="2.25" fill="#8b1d36"/>
<circle cx="291.97" cy="524.12" r="2.25" fill="#8b1d36"/>
<circle cx="314.34" cy="496.04" r="2.25" fill="#8b1d36"/>
<path d="M45.90,458.60 L68.27,430.52 L90.64,514.76 L113.01,505.40 L135.38,477.32 L157.75,411.80 L180.12,496.04 L202.49,542.84 L224.86,524.12 L247.23,449.24 L269.60,552.20 L291.97,533.48 L314.34,467.96" fill="none" stroke="#7b9f94" stroke-width="1.1"/>
<circle cx="45.90" cy="421.16" r="2.25" fill="#7b9f94"/>
<circle cx="45.90" cy="486.68" r="2.25" fill="#7b9f94"/>
<circle cx="45.90" cy="458.60" r="2.25" fill="#7b9f94"/>
<circle cx="68.27" cy="430.52" r="2.25" fill="#7b9f94"/>
<circle cx="90.64" cy="514.76" r="2.25" fill="#7b9f94"/>
<circle cx="113.01" cy="505.40" r="2.25" fill="#7b9f94"/>
<circle cx="135.38" cy="477.32" r="2.25" fill="#7b9f94"/>
<circle cx="157.75" cy="411.80" r="2.25" fill="#7b9f94"/>
<circle cx="180.12" cy="496.04" r="2.25" fill="#7b9f94"/>
<circle cx="202.49" cy="542.84" r="2.25" fill="#7b9f94"/>
<circle cx="224.86" cy="524.12" r="2.25" fill="#7b9f94"/>
<circle cx="247.23" cy="449.24" r="2.25" fill="#7b9f94"/>
<circle cx="269.60" cy="552.20" r="2.25" fill="#7b9f94"/>
<circle cx="291.97" cy="533.48" r="2.25" fill="#7b9f94"/>
<circle cx="314.34" cy="467.96" r="2.25" fill="#7b9f94"/>
<path d="M45.90,458.60 L68.27,456.73 L90.64,496.04 L113.01,494.17 L135.38,481.06 L157.75,449.24 L180.12,473.58 L202.49,544.71 L224.86,509.14 L247.23,467.96 L269.60,540.97 L291.97,518.50 L314.34,503.53" fill="none" stroke="#111111" stroke-width="1.1"/>
<path d="M45.90,443.20 L48.20,445.50 L45.90,447.80 L43.60,445.50 Z" fill="#111111"/>
<path d="M45.90,436.64 L48.20,438.94 L45.90,441.24 L43.60,438.94 Z" fill="#111111"/>
<path d="M45.90,456.30 L48.20,458.60 L45.90,460.90 L43.60,458.60 Z" fill="#111111"/>
<path d="M68.27,454.43 L70.57,456.73 L68.27,459.03 L65.97,456.73 Z" fill="#111111"/>
<path d="M90.64,493.74 L92.94,496.04 L90.64,498.34 L88.34,496.04 Z" fill="#111111"/>
<path d="M113.01,491.87 L115.31,494.17 L113.01,496.47 L110.71,494.17 Z" fill="#111111"/>
<path d="M135.38,478.76 L137.68,481.06 L135.38,483.36 L133.08,481.06 Z" fill="#111111"/>
<path d="M157.75,446.94 L160.05,449.24 L157.75,451.54 L155.45,449.24 Z" fill="#111111"/>
<path d="M180.12,471.28 L182.42,473.58 L180.12,475.88 L177.82,473.58 Z" fill="#111111"/>
<path d="M202.49,542.41 L204.79,544.71 L202.49,547.01 L200.19,544.71 Z" fill="#111111"/>
<path d="M224.86,506.84 L227.16,509.14 L224.86,511.44 L222.56,509.14 Z" fill="#111111"/>
<path d="M247.23,465.66 L249.53,467.96 L247.23,470.26 L244.93,467.96 Z" fill="#111111"/>
<path d="M269.60,538.67 L271.90,540.97 L269.60,543.27 L267.30,540.97 Z" fill="#111111"/>
<path d="M291.97,516.20 L294.27,518.50 L291.97,520.80 L289.67,518.50 Z" fill="#111111"/>
<path d="M314.34,501.23 L316.64,503.53 L314.34,505.83 L312.04,503.53 Z" fill="#111111"/>
<line x1="325.20" y1="456.80" x2="339.80" y2="456.80" stroke="#111111" stroke-width="1.0"/>
<path d="M332.5,454.50 L334.8,456.80 L332.5,459.10 L330.2,456.80 Z" fill="#111111"/>
<text x="343.20" y="459.10" font-size="6.3" fill="#333" text-anchor="start" >Mean</text>
<line x1="325.20" y1="466.75" x2="339.80" y2="466.75" stroke="#8b1d36" stroke-width="1.0"/>
<circle cx="332.5" cy="466.75" r="2.2" fill="#8b1d36"/>
<text x="343.20" y="469.05" font-size="6.3" fill="#333" text-anchor="start" font-style="italic" >RBM45</text>
<line x1="325.20" y1="476.70" x2="339.80" y2="476.70" stroke="#e5512f" stroke-width="1.0"/>
<circle cx="332.5" cy="476.70" r="2.2" fill="#e5512f"/>
<text x="343.20" y="479.00" font-size="6.3" fill="#333" text-anchor="start" font-style="italic" >COX41</text>
<line x1="325.20" y1="486.65" x2="339.80" y2="486.65" stroke="#2d5c3c" stroke-width="1.0"/>
<circle cx="332.5" cy="486.65" r="2.2" fill="#2d5c3c"/>
<text x="343.20" y="488.95" font-size="6.3" fill="#333" text-anchor="start" font-style="italic" >SF3B2</text>
<line x1="325.20" y1="496.60" x2="339.80" y2="496.60" stroke="#1c3560" stroke-width="1.0"/>
<circle cx="332.5" cy="496.60" r="2.2" fill="#1c3560"/>
<text x="343.20" y="498.90" font-size="6.3" fill="#333" text-anchor="start" font-style="italic" >NXF1</text>
<line x1="325.20" y1="506.55" x2="339.80" y2="506.55" stroke="#7b9f94" stroke-width="1.0"/>
<circle cx="332.5" cy="506.55" r="2.2" fill="#7b9f94"/>
<text x="343.20" y="508.85" font-size="6.3" fill="#333" text-anchor="start" font-style="italic" >HNRNPK</text>
<rect x="0.5" y="0.5" width="519" height="607.8" fill="none" stroke="#4a4a4a" stroke-width="1.2"/>
</svg>
</body></html>
